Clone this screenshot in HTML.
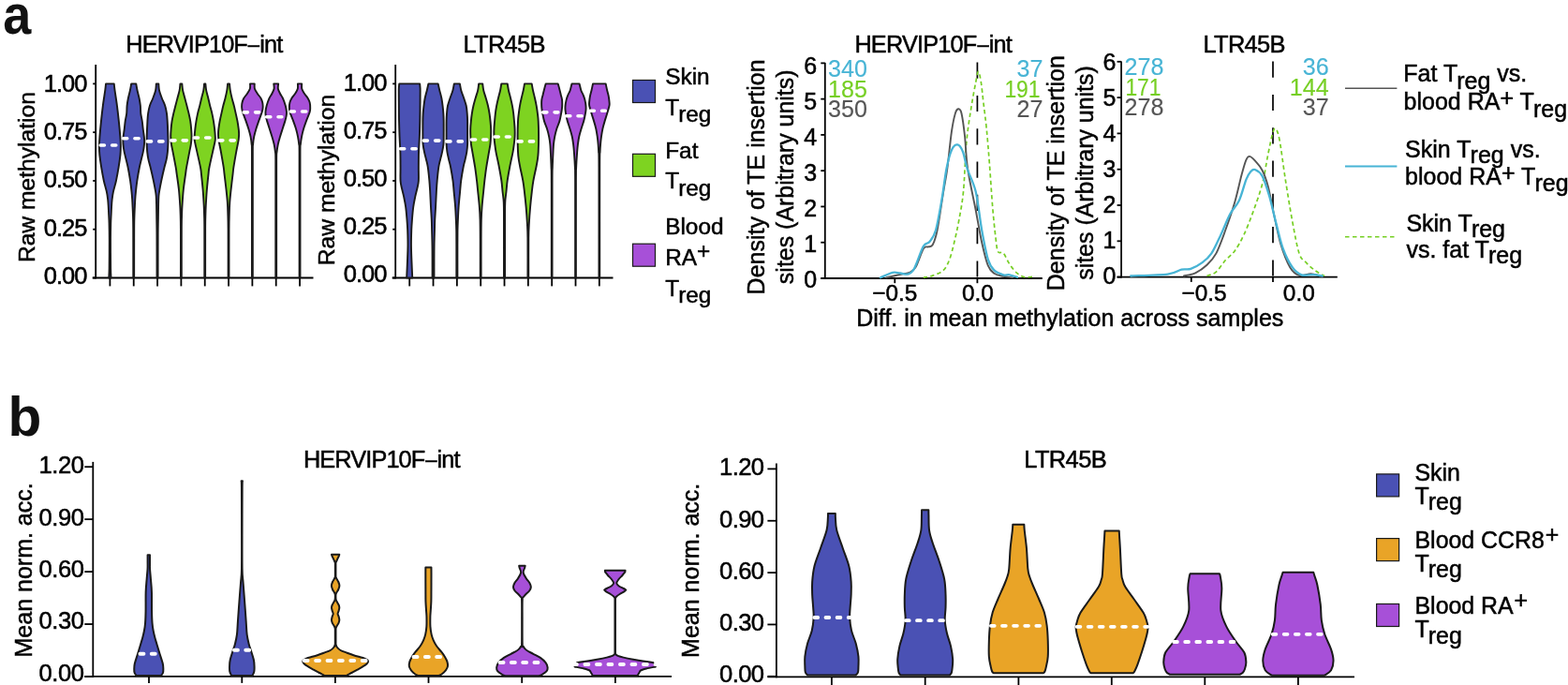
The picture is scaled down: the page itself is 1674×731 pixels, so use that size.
<!DOCTYPE html>
<html lang="en">
<head>
<meta charset="utf-8">
<title>Figure</title>
<style>
html,body{margin:0;padding:0;background:#fff;}
body{width:1674px;height:731px;overflow:hidden;}
svg{display:block;font-family:"Liberation Sans", sans-serif;}
</style>
</head>
<body>
<svg width="1674" height="731" viewBox="0 0 1674 731">
<rect x="0" y="0" width="1674" height="731" fill="#fff"/>
<text transform="translate(3.2 36.2) scale(0.9 0.995)" x="0" y="0" font-size="60" font-weight="bold" fill="#111">a</text>
<text x="8.5" y="464.8" font-size="58.6" font-weight="bold" fill="#111">b</text>
<line x1="102.20" y1="69.00" x2="102.20" y2="297.40" stroke="#000" stroke-width="1.8"/>
<line x1="98.70" y1="296.50" x2="334.50" y2="296.50" stroke="#000" stroke-width="1.8"/>
<line x1="99.20" y1="89.40" x2="102.20" y2="89.40" stroke="#000" stroke-width="1.8"/>
<text x="46.80" y="97.80" font-size="25.5" text-anchor="start" fill="#000" stroke="#000" stroke-width="0.55" font-weight="normal" textLength="46.6" lengthAdjust="spacing">1.00</text>
<line x1="99.20" y1="141.18" x2="102.20" y2="141.18" stroke="#000" stroke-width="1.8"/>
<text x="46.80" y="149.13" font-size="25.5" text-anchor="start" fill="#000" stroke="#000" stroke-width="0.55" font-weight="normal" textLength="46.6" lengthAdjust="spacing">0.75</text>
<line x1="99.20" y1="192.95" x2="102.20" y2="192.95" stroke="#000" stroke-width="1.8"/>
<text x="46.80" y="200.46" font-size="25.5" text-anchor="start" fill="#000" stroke="#000" stroke-width="0.55" font-weight="normal" textLength="46.6" lengthAdjust="spacing">0.50</text>
<line x1="99.20" y1="244.72" x2="102.20" y2="244.72" stroke="#000" stroke-width="1.8"/>
<text x="46.80" y="251.79" font-size="25.5" text-anchor="start" fill="#000" stroke="#000" stroke-width="0.55" font-weight="normal" textLength="46.6" lengthAdjust="spacing">0.25</text>
<line x1="99.20" y1="296.50" x2="102.20" y2="296.50" stroke="#000" stroke-width="1.8"/>
<text x="46.80" y="303.12" font-size="25.5" text-anchor="start" fill="#000" stroke="#000" stroke-width="0.55" font-weight="normal" textLength="46.6" lengthAdjust="spacing">0.00</text>
<line x1="117.40" y1="296.50" x2="117.40" y2="305.40" stroke="#000" stroke-width="1.8"/>
<line x1="142.73" y1="296.50" x2="142.73" y2="305.40" stroke="#000" stroke-width="1.8"/>
<line x1="168.06" y1="296.50" x2="168.06" y2="305.40" stroke="#000" stroke-width="1.8"/>
<line x1="193.39" y1="296.50" x2="193.39" y2="305.40" stroke="#000" stroke-width="1.8"/>
<line x1="218.72" y1="296.50" x2="218.72" y2="305.40" stroke="#000" stroke-width="1.8"/>
<line x1="244.05" y1="296.50" x2="244.05" y2="305.40" stroke="#000" stroke-width="1.8"/>
<line x1="269.38" y1="296.50" x2="269.38" y2="305.40" stroke="#000" stroke-width="1.8"/>
<line x1="294.71" y1="296.50" x2="294.71" y2="305.40" stroke="#000" stroke-width="1.8"/>
<line x1="320.04" y1="296.50" x2="320.04" y2="305.40" stroke="#000" stroke-width="1.8"/>
<text x="134.30" y="56.00" font-size="25.3" text-anchor="start" fill="#000" stroke="#000" stroke-width="0.5" font-weight="normal" letter-spacing="-0.85">HERVIP10F<tspan font-size="22" dy="-1.0" dx="0.9">–</tspan><tspan dy="1.0" dx="0.9">int</tspan></text>
<text x="36.70" y="189.10" font-size="24.63" text-anchor="middle" fill="#000" stroke="#000" stroke-width="0.5" font-weight="normal" transform="rotate(-90 36.70 189.10)">Raw methylation</text>
<path d="M121.75 89.40 C121.88 90.57 122.02 92.54 122.55 96.44 C123.08 100.34 124.23 107.31 124.95 112.80 C125.67 118.29 126.28 123.88 126.85 129.37 C127.42 134.86 128.02 141.35 128.35 145.73 C128.68 150.11 128.83 152.39 128.85 155.67 C128.87 158.95 128.82 161.61 128.45 165.41 C128.08 169.20 127.40 173.86 126.65 178.45 C125.90 183.04 124.90 188.60 123.95 192.95 C123.00 197.30 121.67 201.23 120.95 204.55 C120.23 207.86 119.97 210.10 119.65 212.83 C119.33 215.56 119.22 218.18 119.05 220.91 C118.88 223.64 118.78 226.26 118.65 229.19 C118.52 232.13 118.36 234.20 118.25 238.51 C118.14 242.83 118.02 247.14 118.00 255.08 C117.98 263.02 118.06 279.24 118.15 286.14 C118.24 293.05 118.48 294.77 118.55 296.50 L116.25 296.50 C116.32 294.77 116.56 293.05 116.65 286.14 C116.74 279.24 116.82 263.02 116.80 255.08 C116.78 247.14 116.66 242.83 116.55 238.51 C116.44 234.20 116.28 232.13 116.15 229.19 C116.02 226.26 115.92 223.64 115.75 220.91 C115.58 218.18 115.47 215.56 115.15 212.83 C114.83 210.10 114.57 207.86 113.85 204.55 C113.13 201.23 111.80 197.30 110.85 192.95 C109.90 188.60 108.90 183.04 108.15 178.45 C107.40 173.86 106.72 169.20 106.35 165.41 C105.98 161.61 105.93 158.95 105.95 155.67 C105.97 152.39 106.12 150.11 106.45 145.73 C106.78 141.35 107.38 134.86 107.95 129.37 C108.52 123.88 109.13 118.29 109.85 112.80 C110.57 107.31 111.72 100.34 112.25 96.44 C112.78 92.54 112.92 90.57 113.05 89.40 Z" fill="#4a51b4" stroke="#1a1a1a" stroke-width="1.90" stroke-linejoin="round"/>
<line x1="107.20" y1="155.05" x2="123.80" y2="155.05" stroke="#fff" stroke-width="3.6" stroke-dasharray="4.2 8.2" stroke-linecap="round"/>
<path d="M145.28 89.40 C145.50 90.57 146.03 93.89 146.58 96.44 C147.13 99.00 148.03 102.00 148.58 104.73 C149.13 107.45 149.60 110.08 149.88 112.80 C150.16 115.53 149.96 118.32 150.28 121.09 C150.60 123.85 151.38 126.64 151.78 129.37 C152.18 132.10 152.31 134.44 152.68 137.45 C153.05 140.45 153.76 144.66 153.98 147.39 C154.20 150.11 154.18 151.36 153.98 153.81 C153.78 156.26 153.63 157.98 152.78 162.09 C151.93 166.20 149.95 173.31 148.88 178.45 C147.81 183.60 147.03 188.60 146.38 192.95 C145.73 197.30 145.33 201.23 144.98 204.55 C144.63 207.86 144.46 210.10 144.28 212.83 C144.10 215.56 144.01 218.01 143.88 220.91 C143.75 223.81 143.59 226.26 143.48 230.23 C143.37 234.20 143.28 233.68 143.23 244.72 C143.18 255.77 143.19 287.87 143.18 296.50 L142.28 296.50 C142.27 287.87 142.28 255.77 142.23 244.72 C142.18 233.68 142.09 234.20 141.98 230.23 C141.87 226.26 141.71 223.81 141.58 220.91 C141.45 218.01 141.36 215.56 141.18 212.83 C141.00 210.10 140.83 207.86 140.48 204.55 C140.13 201.23 139.73 197.30 139.08 192.95 C138.43 188.60 137.65 183.60 136.58 178.45 C135.51 173.31 133.53 166.20 132.68 162.09 C131.83 157.98 131.68 156.26 131.48 153.81 C131.28 151.36 131.26 150.11 131.48 147.39 C131.70 144.66 132.41 140.45 132.78 137.45 C133.15 134.44 133.28 132.10 133.68 129.37 C134.08 126.64 134.86 123.85 135.18 121.09 C135.50 118.32 135.30 115.53 135.58 112.80 C135.86 110.08 136.33 107.45 136.88 104.73 C137.43 102.00 138.33 99.00 138.88 96.44 C139.43 93.89 139.96 90.57 140.18 89.40 Z" fill="#4a51b4" stroke="#1a1a1a" stroke-width="1.90" stroke-linejoin="round"/>
<line x1="131.53" y1="147.80" x2="148.43" y2="147.80" stroke="#fff" stroke-width="3.6" stroke-dasharray="4.2 8.2" stroke-linecap="round"/>
<path d="M169.31 89.40 C169.43 90.57 169.43 93.89 170.01 96.44 C170.59 99.00 171.78 102.00 172.81 104.73 C173.84 107.45 175.34 110.08 176.21 112.80 C177.08 115.53 177.59 118.32 178.01 121.09 C178.43 123.85 178.48 125.26 178.71 129.37 C178.94 133.48 179.29 141.66 179.41 145.73 C179.53 149.80 179.49 151.08 179.41 153.81 C179.33 156.53 179.19 159.37 178.91 162.09 C178.63 164.82 178.28 167.44 177.71 170.17 C177.14 172.90 176.43 174.66 175.51 178.45 C174.59 182.25 173.13 188.60 172.21 192.95 C171.29 197.30 170.48 201.79 170.01 204.55 C169.54 207.31 169.56 207.31 169.41 209.52 C169.26 211.73 169.20 213.66 169.11 217.80 C169.02 221.94 168.94 228.85 168.86 234.37 C168.79 239.89 168.70 240.58 168.66 250.94 C168.62 261.29 168.62 288.91 168.61 296.50 L167.51 296.50 C167.50 288.91 167.50 261.29 167.46 250.94 C167.42 240.58 167.33 239.89 167.26 234.37 C167.19 228.85 167.10 221.94 167.01 217.80 C166.92 213.66 166.86 211.73 166.71 209.52 C166.56 207.31 166.58 207.31 166.11 204.55 C165.64 201.79 164.83 197.30 163.91 192.95 C162.99 188.60 161.53 182.25 160.61 178.45 C159.69 174.66 158.98 172.90 158.41 170.17 C157.84 167.44 157.49 164.82 157.21 162.09 C156.93 159.37 156.79 156.53 156.71 153.81 C156.63 151.08 156.59 149.80 156.71 145.73 C156.83 141.66 157.18 133.48 157.41 129.37 C157.64 125.26 157.69 123.85 158.11 121.09 C158.53 118.32 159.04 115.53 159.91 112.80 C160.78 110.08 162.28 107.45 163.31 104.73 C164.34 102.00 165.53 99.00 166.11 96.44 C166.69 93.89 166.69 90.57 166.81 89.40 Z" fill="#4a51b4" stroke="#1a1a1a" stroke-width="1.90" stroke-linejoin="round"/>
<line x1="157.36" y1="150.91" x2="174.26" y2="150.91" stroke="#fff" stroke-width="3.6" stroke-dasharray="4.2 8.2" stroke-linecap="round"/>
<path d="M194.34 89.40 C194.47 90.57 194.64 93.89 195.14 96.44 C195.64 99.00 196.62 102.00 197.34 104.73 C198.06 107.45 198.74 110.08 199.44 112.80 C200.14 115.53 200.91 118.32 201.54 121.09 C202.17 123.85 202.81 126.64 203.24 129.37 C203.67 132.10 203.92 134.72 204.14 137.45 C204.36 140.17 204.59 143.00 204.54 145.73 C204.49 148.46 204.22 151.08 203.84 153.81 C203.46 156.53 203.02 157.98 202.24 162.09 C201.46 166.20 199.82 174.59 199.14 178.45 C198.46 182.32 198.69 181.32 198.14 185.29 C197.59 189.26 196.44 196.61 195.84 202.27 C195.24 207.93 194.82 214.94 194.54 219.25 C194.26 223.57 194.26 223.91 194.14 228.16 C194.02 232.40 193.89 233.33 193.84 244.72 C193.79 256.12 193.84 287.87 193.84 296.50 L192.94 296.50 C192.94 287.87 192.99 256.12 192.94 244.72 C192.89 233.33 192.76 232.40 192.64 228.16 C192.52 223.91 192.52 223.57 192.24 219.25 C191.96 214.94 191.54 207.93 190.94 202.27 C190.34 196.61 189.19 189.26 188.64 185.29 C188.09 181.32 188.32 182.32 187.64 178.45 C186.96 174.59 185.32 166.20 184.54 162.09 C183.76 157.98 183.32 156.53 182.94 153.81 C182.56 151.08 182.29 148.46 182.24 145.73 C182.19 143.00 182.42 140.17 182.64 137.45 C182.86 134.72 183.11 132.10 183.54 129.37 C183.97 126.64 184.61 123.85 185.24 121.09 C185.87 118.32 186.64 115.53 187.34 112.80 C188.04 110.08 188.72 107.45 189.44 104.73 C190.16 102.00 191.14 99.00 191.64 96.44 C192.14 93.89 192.31 90.57 192.44 89.40 Z" fill="#7ed321" stroke="#1a1a1a" stroke-width="1.90" stroke-linejoin="round"/>
<line x1="182.79" y1="149.87" x2="199.79" y2="149.87" stroke="#fff" stroke-width="3.6" stroke-dasharray="4.2 8.2" stroke-linecap="round"/>
<path d="M219.37 89.40 C219.50 90.57 219.69 93.89 220.17 96.44 C220.65 99.00 221.60 102.00 222.27 104.73 C222.94 107.45 223.49 110.08 224.17 112.80 C224.85 115.53 225.74 118.32 226.37 121.09 C227.00 123.85 227.52 126.64 227.97 129.37 C228.42 132.10 228.77 134.72 229.07 137.45 C229.37 140.17 229.69 143.52 229.77 145.73 C229.85 147.94 230.02 147.97 229.57 150.70 C229.12 153.43 228.09 157.47 227.07 162.09 C226.05 166.72 224.22 174.59 223.47 178.45 C222.72 182.32 223.00 181.32 222.57 185.29 C222.14 189.26 221.34 196.61 220.87 202.27 C220.40 207.93 220.02 214.59 219.77 219.25 C219.52 223.91 219.47 225.98 219.37 230.23 C219.27 234.47 219.20 233.68 219.17 244.72 C219.14 255.77 219.17 287.87 219.17 296.50 L218.27 296.50 C218.27 287.87 218.30 255.77 218.27 244.72 C218.24 233.68 218.17 234.47 218.07 230.23 C217.97 225.98 217.92 223.91 217.67 219.25 C217.42 214.59 217.04 207.93 216.57 202.27 C216.10 196.61 215.30 189.26 214.87 185.29 C214.44 181.32 214.72 182.32 213.97 178.45 C213.22 174.59 211.39 166.72 210.37 162.09 C209.35 157.47 208.32 153.43 207.87 150.70 C207.42 147.97 207.59 147.94 207.67 145.73 C207.75 143.52 208.07 140.17 208.37 137.45 C208.67 134.72 209.02 132.10 209.47 129.37 C209.92 126.64 210.44 123.85 211.07 121.09 C211.70 118.32 212.59 115.53 213.27 112.80 C213.95 110.08 214.50 107.45 215.17 104.73 C215.84 102.00 216.79 99.00 217.27 96.44 C217.75 93.89 217.94 90.57 218.07 89.40 Z" fill="#7ed321" stroke="#1a1a1a" stroke-width="1.90" stroke-linejoin="round"/>
<line x1="207.32" y1="146.97" x2="224.52" y2="146.97" stroke="#fff" stroke-width="3.6" stroke-dasharray="4.2 8.2" stroke-linecap="round"/>
<path d="M245.00 89.40 C245.13 90.57 245.37 93.89 245.80 96.44 C246.23 99.00 246.93 102.00 247.60 104.73 C248.27 107.45 249.12 110.08 249.80 112.80 C250.48 115.53 251.08 118.32 251.70 121.09 C252.32 123.85 253.00 126.64 253.50 129.37 C254.00 132.10 254.43 135.27 254.70 137.45 C254.97 139.62 255.10 140.48 255.10 142.42 C255.10 144.35 255.18 145.77 254.70 149.04 C254.22 152.32 253.08 157.19 252.20 162.09 C251.32 166.99 250.00 174.59 249.40 178.45 C248.80 182.32 249.07 181.32 248.60 185.29 C248.13 189.26 247.15 197.20 246.60 202.27 C246.05 207.34 245.60 211.42 245.30 215.73 C245.00 220.05 244.93 223.32 244.80 228.16 C244.67 232.99 244.55 233.33 244.50 244.72 C244.45 256.12 244.50 287.87 244.50 296.50 L243.60 296.50 C243.60 287.87 243.65 256.12 243.60 244.72 C243.55 233.33 243.43 232.99 243.30 228.16 C243.17 223.32 243.10 220.05 242.80 215.73 C242.50 211.42 242.05 207.34 241.50 202.27 C240.95 197.20 239.97 189.26 239.50 185.29 C239.03 181.32 239.30 182.32 238.70 178.45 C238.10 174.59 236.78 166.99 235.90 162.09 C235.02 157.19 233.88 152.32 233.40 149.04 C232.92 145.77 233.00 144.35 233.00 142.42 C233.00 140.48 233.13 139.62 233.40 137.45 C233.67 135.27 234.10 132.10 234.60 129.37 C235.10 126.64 235.78 123.85 236.40 121.09 C237.02 118.32 237.62 115.53 238.30 112.80 C238.98 110.08 239.83 107.45 240.50 104.73 C241.17 102.00 241.87 99.00 242.30 96.44 C242.73 93.89 242.97 90.57 243.10 89.40 Z" fill="#7ed321" stroke="#1a1a1a" stroke-width="1.90" stroke-linejoin="round"/>
<line x1="233.65" y1="149.87" x2="250.55" y2="149.87" stroke="#fff" stroke-width="3.6" stroke-dasharray="4.2 8.2" stroke-linecap="round"/>
<path d="M271.73 89.40 C271.76 90.30 271.43 93.06 271.93 94.78 C272.43 96.51 273.65 98.10 274.73 99.76 C275.81 101.41 277.51 103.10 278.43 104.73 C279.35 106.35 279.86 107.87 280.23 109.49 C280.60 111.11 280.71 112.80 280.63 114.46 C280.55 116.12 280.48 116.94 279.73 119.43 C278.98 121.91 277.18 126.37 276.13 129.37 C275.08 132.37 274.25 134.72 273.43 137.45 C272.61 140.17 271.78 143.00 271.23 145.73 C270.68 148.46 270.36 151.08 270.13 153.81 C269.90 156.53 269.88 152.12 269.83 162.09 C269.78 172.07 269.83 191.26 269.83 213.66 C269.83 236.06 269.83 282.69 269.83 296.50 L268.93 296.50 C268.93 282.69 268.93 236.06 268.93 213.66 C268.93 191.26 268.98 172.07 268.93 162.09 C268.88 152.12 268.86 156.53 268.63 153.81 C268.40 151.08 268.08 148.46 267.53 145.73 C266.98 143.00 266.15 140.17 265.33 137.45 C264.51 134.72 263.68 132.37 262.63 129.37 C261.58 126.37 259.78 121.91 259.03 119.43 C258.28 116.94 258.21 116.12 258.13 114.46 C258.05 112.80 258.16 111.11 258.53 109.49 C258.90 107.87 259.41 106.35 260.33 104.73 C261.25 103.10 262.95 101.41 264.03 99.76 C265.11 98.10 266.33 96.51 266.83 94.78 C267.33 93.06 267.00 90.30 267.03 89.40 Z" fill="#a750d8" stroke="#1a1a1a" stroke-width="1.90" stroke-linejoin="round"/>
<line x1="260.18" y1="119.84" x2="276.58" y2="119.84" stroke="#fff" stroke-width="3.6" stroke-dasharray="4.2 8.2" stroke-linecap="round"/>
<path d="M297.16 89.40 C297.11 90.30 296.56 93.06 296.86 94.78 C297.16 96.51 298.13 98.10 298.96 99.76 C299.79 101.41 300.89 102.55 301.86 104.73 C302.83 106.90 304.08 110.35 304.76 112.80 C305.44 115.25 305.83 117.50 305.96 119.43 C306.09 121.36 305.84 122.74 305.56 124.40 C305.28 126.06 304.91 127.20 304.26 129.37 C303.61 131.54 302.53 134.72 301.66 137.45 C300.79 140.17 299.86 143.00 299.06 145.73 C298.26 148.46 297.44 151.08 296.86 153.81 C296.28 156.53 295.84 159.37 295.56 162.09 C295.28 164.82 295.23 161.57 295.16 170.17 C295.09 178.76 295.16 192.60 295.16 213.66 C295.16 234.72 295.16 282.69 295.16 296.50 L294.26 296.50 C294.26 282.69 294.26 234.72 294.26 213.66 C294.26 192.60 294.33 178.76 294.26 170.17 C294.19 161.57 294.14 164.82 293.86 162.09 C293.58 159.37 293.14 156.53 292.56 153.81 C291.98 151.08 291.16 148.46 290.36 145.73 C289.56 143.00 288.63 140.17 287.76 137.45 C286.89 134.72 285.81 131.54 285.16 129.37 C284.51 127.20 284.14 126.06 283.86 124.40 C283.58 122.74 283.33 121.36 283.46 119.43 C283.59 117.50 283.98 115.25 284.66 112.80 C285.34 110.35 286.59 106.90 287.56 104.73 C288.53 102.55 289.63 101.41 290.46 99.76 C291.29 98.10 292.26 96.51 292.56 94.78 C292.86 93.06 292.31 90.30 292.26 89.40 Z" fill="#a750d8" stroke="#1a1a1a" stroke-width="1.90" stroke-linejoin="round"/>
<line x1="284.61" y1="124.81" x2="300.81" y2="124.81" stroke="#fff" stroke-width="3.6" stroke-dasharray="4.2 8.2" stroke-linecap="round"/>
<path d="M322.19 89.40 C322.21 90.30 321.84 93.06 322.29 94.78 C322.74 96.51 323.84 98.10 324.89 99.76 C325.94 101.41 327.62 103.10 328.59 104.73 C329.56 106.35 330.26 107.87 330.69 109.49 C331.12 111.11 331.19 112.80 331.19 114.46 C331.19 116.12 331.41 116.94 330.69 119.43 C329.97 121.91 327.99 126.37 326.89 129.37 C325.79 132.37 324.89 134.72 324.09 137.45 C323.29 140.17 322.62 143.00 322.09 145.73 C321.56 148.46 321.16 151.08 320.89 153.81 C320.62 156.53 320.56 152.12 320.49 162.09 C320.42 172.07 320.49 191.26 320.49 213.66 C320.49 236.06 320.49 282.69 320.49 296.50 L319.59 296.50 C319.59 282.69 319.59 236.06 319.59 213.66 C319.59 191.26 319.66 172.07 319.59 162.09 C319.52 152.12 319.46 156.53 319.19 153.81 C318.92 151.08 318.52 148.46 317.99 145.73 C317.46 143.00 316.79 140.17 315.99 137.45 C315.19 134.72 314.29 132.37 313.19 129.37 C312.09 126.37 310.11 121.91 309.39 119.43 C308.67 116.94 308.89 116.12 308.89 114.46 C308.89 112.80 308.96 111.11 309.39 109.49 C309.82 107.87 310.52 106.35 311.49 104.73 C312.46 103.10 314.14 101.41 315.19 99.76 C316.24 98.10 317.34 96.51 317.79 94.78 C318.24 93.06 317.87 90.30 317.89 89.40 Z" fill="#a750d8" stroke="#1a1a1a" stroke-width="1.90" stroke-linejoin="round"/>
<line x1="310.14" y1="119.02" x2="326.74" y2="119.02" stroke="#fff" stroke-width="3.6" stroke-dasharray="4.2 8.2" stroke-linecap="round"/>
<line x1="422.20" y1="69.00" x2="422.20" y2="297.40" stroke="#000" stroke-width="1.8"/>
<line x1="418.70" y1="296.50" x2="654.50" y2="296.50" stroke="#000" stroke-width="1.8"/>
<line x1="419.20" y1="89.40" x2="422.20" y2="89.40" stroke="#000" stroke-width="1.8"/>
<text x="366.80" y="97.00" font-size="25.5" text-anchor="start" fill="#000" stroke="#000" stroke-width="0.55" font-weight="normal" textLength="46.6" lengthAdjust="spacing">1.00</text>
<line x1="419.20" y1="141.18" x2="422.20" y2="141.18" stroke="#000" stroke-width="1.8"/>
<text x="366.80" y="148.10" font-size="25.5" text-anchor="start" fill="#000" stroke="#000" stroke-width="0.55" font-weight="normal" textLength="46.6" lengthAdjust="spacing">0.75</text>
<line x1="419.20" y1="192.95" x2="422.20" y2="192.95" stroke="#000" stroke-width="1.8"/>
<text x="366.80" y="199.20" font-size="25.5" text-anchor="start" fill="#000" stroke="#000" stroke-width="0.55" font-weight="normal" textLength="46.6" lengthAdjust="spacing">0.50</text>
<line x1="419.20" y1="244.72" x2="422.20" y2="244.72" stroke="#000" stroke-width="1.8"/>
<text x="366.80" y="250.30" font-size="25.5" text-anchor="start" fill="#000" stroke="#000" stroke-width="0.55" font-weight="normal" textLength="46.6" lengthAdjust="spacing">0.25</text>
<line x1="419.20" y1="296.50" x2="422.20" y2="296.50" stroke="#000" stroke-width="1.8"/>
<text x="366.80" y="301.40" font-size="25.5" text-anchor="start" fill="#000" stroke="#000" stroke-width="0.55" font-weight="normal" textLength="46.6" lengthAdjust="spacing">0.00</text>
<line x1="437.20" y1="296.50" x2="437.20" y2="305.40" stroke="#000" stroke-width="1.8"/>
<line x1="462.53" y1="296.50" x2="462.53" y2="305.40" stroke="#000" stroke-width="1.8"/>
<line x1="487.86" y1="296.50" x2="487.86" y2="305.40" stroke="#000" stroke-width="1.8"/>
<line x1="513.19" y1="296.50" x2="513.19" y2="305.40" stroke="#000" stroke-width="1.8"/>
<line x1="538.52" y1="296.50" x2="538.52" y2="305.40" stroke="#000" stroke-width="1.8"/>
<line x1="563.85" y1="296.50" x2="563.85" y2="305.40" stroke="#000" stroke-width="1.8"/>
<line x1="589.18" y1="296.50" x2="589.18" y2="305.40" stroke="#000" stroke-width="1.8"/>
<line x1="614.51" y1="296.50" x2="614.51" y2="305.40" stroke="#000" stroke-width="1.8"/>
<line x1="639.84" y1="296.50" x2="639.84" y2="305.40" stroke="#000" stroke-width="1.8"/>
<text x="494.40" y="56.00" font-size="25.5" text-anchor="start" fill="#000" stroke="#000" stroke-width="0.5" font-weight="normal" textLength="88.2" lengthAdjust="spacing">LTR45B</text>
<text x="357.00" y="192.10" font-size="24.7" text-anchor="middle" fill="#000" stroke="#000" stroke-width="0.5" font-weight="normal" transform="rotate(-90 357.00 192.10)">Raw methylation</text>
<path d="M448.15 89.40 C448.22 90.09 448.47 92.37 448.55 93.54 C448.63 94.72 448.65 93.23 448.65 96.44 C448.65 99.65 448.60 107.31 448.55 112.80 C448.50 118.29 448.47 123.88 448.35 129.37 C448.23 134.86 448.07 140.28 447.85 145.73 C447.63 151.18 447.22 156.64 447.05 162.09 C446.88 167.55 446.88 173.31 446.85 178.45 C446.82 183.60 447.10 189.15 446.85 192.95 C446.60 196.75 445.93 198.47 445.35 201.23 C444.77 204.00 444.03 206.24 443.35 209.52 C442.67 212.80 441.82 216.77 441.25 220.91 C440.68 225.05 440.28 230.26 439.95 234.37 C439.62 238.48 439.42 240.93 439.25 245.55 C439.08 250.18 438.92 256.63 438.95 262.12 C438.98 267.61 439.23 272.75 439.45 278.48 C439.67 284.21 440.12 293.50 440.25 296.50 L434.15 296.50 C434.28 293.50 434.73 284.21 434.95 278.48 C435.17 272.75 435.42 267.61 435.45 262.12 C435.48 256.63 435.32 250.18 435.15 245.55 C434.98 240.93 434.78 238.48 434.45 234.37 C434.12 230.26 433.72 225.05 433.15 220.91 C432.58 216.77 431.73 212.80 431.05 209.52 C430.37 206.24 429.63 204.00 429.05 201.23 C428.47 198.47 427.80 196.75 427.55 192.95 C427.30 189.15 427.58 183.60 427.55 178.45 C427.52 173.31 427.52 167.55 427.35 162.09 C427.18 156.64 426.77 151.18 426.55 145.73 C426.33 140.28 426.17 134.86 426.05 129.37 C425.93 123.88 425.90 118.29 425.85 112.80 C425.80 107.31 425.75 99.65 425.75 96.44 C425.75 93.23 425.77 94.72 425.85 93.54 C425.93 92.37 426.18 90.09 426.25 89.40 Z" fill="#4a51b4" stroke="#1a1a1a" stroke-width="1.90" stroke-linejoin="round"/>
<line x1="427.50" y1="158.78" x2="444.40" y2="158.78" stroke="#fff" stroke-width="3.6" stroke-dasharray="4.2 8.2" stroke-linecap="round"/>
<path d="M467.68 89.40 C467.95 90.57 468.66 93.89 469.28 96.44 C469.90 99.00 470.83 102.00 471.38 104.73 C471.93 107.45 472.25 110.08 472.58 112.80 C472.91 115.53 473.20 118.32 473.38 121.09 C473.56 123.85 473.63 125.26 473.68 129.37 C473.73 133.48 473.71 141.66 473.68 145.73 C473.65 149.80 473.75 151.08 473.48 153.81 C473.21 156.53 472.65 159.37 472.08 162.09 C471.51 164.82 470.71 167.44 470.08 170.17 C469.45 172.90 468.85 174.66 468.28 178.45 C467.71 182.25 467.08 188.60 466.68 192.95 C466.28 197.30 466.15 199.89 465.88 204.55 C465.61 209.21 465.35 215.94 465.08 220.91 C464.81 225.88 464.46 230.26 464.28 234.37 C464.10 238.48 464.10 240.93 463.98 245.55 C463.86 250.18 463.66 256.63 463.58 262.12 C463.50 267.61 463.50 272.75 463.48 278.48 C463.46 284.21 463.48 293.50 463.48 296.50 L461.58 296.50 C461.58 293.50 461.60 284.21 461.58 278.48 C461.56 272.75 461.56 267.61 461.48 262.12 C461.40 256.63 461.20 250.18 461.08 245.55 C460.96 240.93 460.96 238.48 460.78 234.37 C460.60 230.26 460.25 225.88 459.98 220.91 C459.71 215.94 459.45 209.21 459.18 204.55 C458.91 199.89 458.78 197.30 458.38 192.95 C457.98 188.60 457.35 182.25 456.78 178.45 C456.21 174.66 455.61 172.90 454.98 170.17 C454.35 167.44 453.55 164.82 452.98 162.09 C452.41 159.37 451.85 156.53 451.58 153.81 C451.31 151.08 451.41 149.80 451.38 145.73 C451.35 141.66 451.33 133.48 451.38 129.37 C451.43 125.26 451.50 123.85 451.68 121.09 C451.86 118.32 452.15 115.53 452.48 112.80 C452.81 110.08 453.13 107.45 453.68 104.73 C454.23 102.00 455.16 99.00 455.78 96.44 C456.40 93.89 457.11 90.57 457.38 89.40 Z" fill="#4a51b4" stroke="#1a1a1a" stroke-width="1.90" stroke-linejoin="round"/>
<line x1="452.23" y1="150.08" x2="468.83" y2="150.08" stroke="#fff" stroke-width="3.6" stroke-dasharray="4.2 8.2" stroke-linecap="round"/>
<path d="M490.91 89.40 C491.14 90.57 491.59 93.89 492.31 96.44 C493.03 99.00 494.31 102.00 495.21 104.73 C496.11 107.45 497.13 110.08 497.71 112.80 C498.29 115.53 498.48 118.32 498.71 121.09 C498.94 123.85 499.04 125.26 499.11 129.37 C499.18 133.48 499.11 141.66 499.11 145.73 C499.11 149.80 499.24 151.08 499.11 153.81 C498.98 156.53 498.73 159.37 498.31 162.09 C497.89 164.82 497.23 167.44 496.61 170.17 C495.99 172.90 495.34 174.66 494.61 178.45 C493.88 182.25 492.79 188.60 492.21 192.95 C491.63 197.30 491.54 199.89 491.11 204.55 C490.68 209.21 489.98 215.94 489.61 220.91 C489.24 225.88 489.09 230.26 488.91 234.37 C488.73 238.48 488.59 240.93 488.51 245.55 C488.43 250.18 488.43 253.63 488.41 262.12 C488.39 270.61 488.41 290.77 488.41 296.50 L487.31 296.50 C487.31 290.77 487.33 270.61 487.31 262.12 C487.29 253.63 487.29 250.18 487.21 245.55 C487.13 240.93 486.99 238.48 486.81 234.37 C486.63 230.26 486.48 225.88 486.11 220.91 C485.74 215.94 485.04 209.21 484.61 204.55 C484.18 199.89 484.09 197.30 483.51 192.95 C482.93 188.60 481.84 182.25 481.11 178.45 C480.38 174.66 479.73 172.90 479.11 170.17 C478.49 167.44 477.83 164.82 477.41 162.09 C476.99 159.37 476.74 156.53 476.61 153.81 C476.48 151.08 476.61 149.80 476.61 145.73 C476.61 141.66 476.54 133.48 476.61 129.37 C476.68 125.26 476.78 123.85 477.01 121.09 C477.24 118.32 477.43 115.53 478.01 112.80 C478.59 110.08 479.61 107.45 480.51 104.73 C481.41 102.00 482.69 99.00 483.41 96.44 C484.13 93.89 484.58 90.57 484.81 89.40 Z" fill="#4a51b4" stroke="#1a1a1a" stroke-width="1.90" stroke-linejoin="round"/>
<line x1="476.76" y1="150.91" x2="493.66" y2="150.91" stroke="#fff" stroke-width="3.6" stroke-dasharray="4.2 8.2" stroke-linecap="round"/>
<path d="M515.24 89.40 C515.41 90.57 515.66 93.89 516.24 96.44 C516.82 99.00 517.96 102.00 518.74 104.73 C519.52 107.45 520.31 110.08 520.94 112.80 C521.57 115.53 522.11 118.32 522.54 121.09 C522.97 123.85 523.27 126.64 523.54 129.37 C523.81 132.10 524.06 134.72 524.14 137.45 C524.22 140.17 524.16 143.00 524.04 145.73 C523.92 148.46 523.77 151.08 523.44 153.81 C523.11 156.53 522.74 157.98 522.04 162.09 C521.34 166.20 520.02 173.31 519.24 178.45 C518.46 183.60 517.86 188.60 517.34 192.95 C516.82 197.30 516.61 199.89 516.14 204.55 C515.67 209.21 514.92 215.94 514.54 220.91 C514.16 225.88 513.99 228.67 513.84 234.37 C513.69 240.07 513.67 244.72 513.64 255.08 C513.61 265.44 513.64 289.60 513.64 296.50 L512.74 296.50 C512.74 289.60 512.77 265.44 512.74 255.08 C512.71 244.72 512.69 240.07 512.54 234.37 C512.39 228.67 512.22 225.88 511.84 220.91 C511.46 215.94 510.71 209.21 510.24 204.55 C509.77 199.89 509.56 197.30 509.04 192.95 C508.52 188.60 507.92 183.60 507.14 178.45 C506.36 173.31 505.04 166.20 504.34 162.09 C503.64 157.98 503.27 156.53 502.94 153.81 C502.61 151.08 502.46 148.46 502.34 145.73 C502.22 143.00 502.16 140.17 502.24 137.45 C502.32 134.72 502.57 132.10 502.84 129.37 C503.11 126.64 503.41 123.85 503.84 121.09 C504.27 118.32 504.81 115.53 505.44 112.80 C506.07 110.08 506.86 107.45 507.64 104.73 C508.42 102.00 509.56 99.00 510.14 96.44 C510.72 93.89 510.97 90.57 511.14 89.40 Z" fill="#7ed321" stroke="#1a1a1a" stroke-width="1.90" stroke-linejoin="round"/>
<line x1="503.39" y1="149.04" x2="519.79" y2="149.04" stroke="#fff" stroke-width="3.6" stroke-dasharray="4.2 8.2" stroke-linecap="round"/>
<path d="M541.77 89.40 C541.97 90.57 542.42 93.89 542.97 96.44 C543.52 99.00 544.42 102.00 545.07 104.73 C545.72 107.45 546.35 110.08 546.87 112.80 C547.39 115.53 547.82 118.32 548.17 121.09 C548.52 123.85 548.74 126.64 548.97 129.37 C549.20 132.10 549.47 134.72 549.57 137.45 C549.67 140.17 549.70 143.00 549.57 145.73 C549.44 148.46 549.10 151.08 548.77 153.81 C548.44 156.53 548.34 157.98 547.57 162.09 C546.80 166.20 545.15 173.31 544.17 178.45 C543.19 183.60 542.29 188.60 541.67 192.95 C541.05 197.30 540.87 200.68 540.47 204.55 C540.07 208.41 539.50 211.17 539.27 216.15 C539.04 221.12 539.10 220.98 539.07 234.37 C539.04 247.76 539.07 286.14 539.07 296.50 L537.97 296.50 C537.97 286.14 538.00 247.76 537.97 234.37 C537.94 220.98 538.00 221.12 537.77 216.15 C537.54 211.17 536.97 208.41 536.57 204.55 C536.17 200.68 535.99 197.30 535.37 192.95 C534.75 188.60 533.85 183.60 532.87 178.45 C531.89 173.31 530.24 166.20 529.47 162.09 C528.70 157.98 528.60 156.53 528.27 153.81 C527.94 151.08 527.60 148.46 527.47 145.73 C527.34 143.00 527.37 140.17 527.47 137.45 C527.57 134.72 527.84 132.10 528.07 129.37 C528.30 126.64 528.52 123.85 528.87 121.09 C529.22 118.32 529.65 115.53 530.17 112.80 C530.69 110.08 531.32 107.45 531.97 104.73 C532.62 102.00 533.52 99.00 534.07 96.44 C534.62 93.89 535.07 90.57 535.27 89.40 Z" fill="#7ed321" stroke="#1a1a1a" stroke-width="1.90" stroke-linejoin="round"/>
<line x1="528.02" y1="145.94" x2="544.12" y2="145.94" stroke="#fff" stroke-width="3.6" stroke-dasharray="4.2 8.2" stroke-linecap="round"/>
<path d="M567.70 89.40 C567.92 90.57 568.45 93.89 569.00 96.44 C569.55 99.00 570.38 102.00 571.00 104.73 C571.62 107.45 572.22 110.08 572.70 112.80 C573.18 115.53 573.57 118.32 573.90 121.09 C574.23 123.85 574.50 125.26 574.70 129.37 C574.90 133.48 575.10 140.28 575.10 145.73 C575.10 151.18 574.90 158.02 574.70 162.09 C574.50 166.17 574.28 167.44 573.90 170.17 C573.52 172.90 573.15 174.66 572.40 178.45 C571.65 182.25 570.17 188.60 569.40 192.95 C568.63 197.30 568.35 199.89 567.80 204.55 C567.25 209.21 566.58 215.42 566.10 220.91 C565.62 226.40 565.20 231.99 564.90 237.48 C564.60 242.96 564.40 244.00 564.30 253.84 C564.20 263.67 564.30 289.39 564.30 296.50 L563.40 296.50 C563.40 289.39 563.50 263.67 563.40 253.84 C563.30 244.00 563.10 242.96 562.80 237.48 C562.50 231.99 562.08 226.40 561.60 220.91 C561.12 215.42 560.45 209.21 559.90 204.55 C559.35 199.89 559.07 197.30 558.30 192.95 C557.53 188.60 556.05 182.25 555.30 178.45 C554.55 174.66 554.18 172.90 553.80 170.17 C553.42 167.44 553.20 166.17 553.00 162.09 C552.80 158.02 552.60 151.18 552.60 145.73 C552.60 140.28 552.80 133.48 553.00 129.37 C553.20 125.26 553.47 123.85 553.80 121.09 C554.13 118.32 554.52 115.53 555.00 112.80 C555.48 110.08 556.08 107.45 556.70 104.73 C557.32 102.00 558.15 99.00 558.70 96.44 C559.25 93.89 559.78 90.57 560.00 89.40 Z" fill="#7ed321" stroke="#1a1a1a" stroke-width="1.90" stroke-linejoin="round"/>
<line x1="552.95" y1="150.91" x2="569.55" y2="150.91" stroke="#fff" stroke-width="3.6" stroke-dasharray="4.2 8.2" stroke-linecap="round"/>
<path d="M595.73 89.40 C596.05 90.57 597.11 94.44 597.63 96.44 C598.15 98.44 598.43 99.76 598.83 101.41 C599.23 103.07 599.80 104.76 600.03 106.38 C600.26 108.00 600.25 109.52 600.23 111.15 C600.21 112.77 600.11 114.46 599.93 116.12 C599.75 117.77 599.56 118.88 599.13 121.09 C598.70 123.30 598.13 126.64 597.33 129.37 C596.53 132.10 595.18 134.72 594.33 137.45 C593.48 140.17 592.78 143.00 592.23 145.73 C591.68 148.46 591.31 151.08 591.03 153.81 C590.75 156.53 590.73 157.98 590.53 162.09 C590.33 166.20 589.99 172.96 589.83 178.45 C589.67 183.94 589.62 175.35 589.58 195.02 C589.54 214.70 589.58 279.59 589.58 296.50 L588.78 296.50 C588.78 279.59 588.82 214.70 588.78 195.02 C588.74 175.35 588.69 183.94 588.53 178.45 C588.37 172.96 588.03 166.20 587.83 162.09 C587.63 157.98 587.61 156.53 587.33 153.81 C587.05 151.08 586.68 148.46 586.13 145.73 C585.58 143.00 584.88 140.17 584.03 137.45 C583.18 134.72 581.83 132.10 581.03 129.37 C580.23 126.64 579.66 123.30 579.23 121.09 C578.80 118.88 578.61 117.77 578.43 116.12 C578.25 114.46 578.15 112.77 578.13 111.15 C578.11 109.52 578.10 108.00 578.33 106.38 C578.56 104.76 579.13 103.07 579.53 101.41 C579.93 99.76 580.21 98.44 580.73 96.44 C581.25 94.44 582.31 90.57 582.63 89.40 Z" fill="#a750d8" stroke="#1a1a1a" stroke-width="1.90" stroke-linejoin="round"/>
<line x1="579.68" y1="119.84" x2="595.78" y2="119.84" stroke="#fff" stroke-width="3.6" stroke-dasharray="4.2 8.2" stroke-linecap="round"/>
<path d="M618.56 89.40 C618.86 90.57 619.68 94.44 620.36 96.44 C621.04 98.44 621.99 99.76 622.66 101.41 C623.33 103.07 623.89 104.48 624.36 106.38 C624.83 108.28 625.28 110.90 625.46 112.80 C625.64 114.70 625.64 115.84 625.46 117.77 C625.28 119.71 624.74 122.47 624.36 124.40 C623.98 126.33 623.79 127.20 623.16 129.37 C622.53 131.54 621.38 134.72 620.56 137.45 C619.74 140.17 618.86 143.00 618.26 145.73 C617.66 148.46 617.31 151.08 616.96 153.81 C616.61 156.53 616.46 157.98 616.16 162.09 C615.86 166.20 615.37 172.96 615.16 178.45 C614.95 183.94 614.95 175.35 614.91 195.02 C614.87 214.70 614.91 279.59 614.91 296.50 L614.11 296.50 C614.11 279.59 614.15 214.70 614.11 195.02 C614.07 175.35 614.07 183.94 613.86 178.45 C613.65 172.96 613.16 166.20 612.86 162.09 C612.56 157.98 612.41 156.53 612.06 153.81 C611.71 151.08 611.36 148.46 610.76 145.73 C610.16 143.00 609.28 140.17 608.46 137.45 C607.64 134.72 606.49 131.54 605.86 129.37 C605.23 127.20 605.04 126.33 604.66 124.40 C604.28 122.47 603.74 119.71 603.56 117.77 C603.38 115.84 603.38 114.70 603.56 112.80 C603.74 110.90 604.19 108.28 604.66 106.38 C605.13 104.48 605.69 103.07 606.36 101.41 C607.03 99.76 607.98 98.44 608.66 96.44 C609.34 94.44 610.16 90.57 610.46 89.40 Z" fill="#a750d8" stroke="#1a1a1a" stroke-width="1.90" stroke-linejoin="round"/>
<line x1="604.61" y1="123.78" x2="621.11" y2="123.78" stroke="#fff" stroke-width="3.6" stroke-dasharray="4.2 8.2" stroke-linecap="round"/>
<path d="M646.69 89.40 C646.94 90.57 647.72 94.44 648.19 96.44 C648.66 98.44 649.14 99.76 649.49 101.41 C649.84 103.07 650.09 104.76 650.29 106.38 C650.49 108.00 650.72 109.80 650.69 111.15 C650.66 112.49 650.51 112.80 650.09 114.46 C649.67 116.12 648.94 118.60 648.19 121.09 C647.44 123.57 646.39 126.64 645.59 129.37 C644.79 132.10 643.99 134.72 643.39 137.45 C642.79 140.17 642.37 143.00 641.99 145.73 C641.61 148.46 641.32 151.08 641.09 153.81 C640.86 156.53 640.73 157.98 640.59 162.09 C640.45 166.20 640.30 156.05 640.24 178.45 C640.18 200.85 640.24 276.83 640.24 296.50 L639.44 296.50 C639.44 276.83 639.50 200.85 639.44 178.45 C639.38 156.05 639.23 166.20 639.09 162.09 C638.95 157.98 638.82 156.53 638.59 153.81 C638.36 151.08 638.07 148.46 637.69 145.73 C637.31 143.00 636.89 140.17 636.29 137.45 C635.69 134.72 634.89 132.10 634.09 129.37 C633.29 126.64 632.24 123.57 631.49 121.09 C630.74 118.60 630.01 116.12 629.59 114.46 C629.17 112.80 629.02 112.49 628.99 111.15 C628.96 109.80 629.19 108.00 629.39 106.38 C629.59 104.76 629.84 103.07 630.19 101.41 C630.54 99.76 631.02 98.44 631.49 96.44 C631.96 94.44 632.74 90.57 632.99 89.40 Z" fill="#a750d8" stroke="#1a1a1a" stroke-width="1.90" stroke-linejoin="round"/>
<line x1="630.14" y1="118.19" x2="646.24" y2="118.19" stroke="#fff" stroke-width="3.6" stroke-dasharray="4.2 8.2" stroke-linecap="round"/>
<rect x="675.50" y="85.50" width="24.00" height="24.00" fill="#4a51b4" stroke="#1a1a1a" stroke-width="1.2"/>
<rect x="675.50" y="164.30" width="24.00" height="24.00" fill="#7ed321" stroke="#1a1a1a" stroke-width="1.2"/>
<rect x="675.50" y="260.20" width="24.00" height="24.00" fill="#a750d8" stroke="#1a1a1a" stroke-width="1.2"/>
<text x="710.20" y="90.00" font-size="24.4" text-anchor="start" fill="#000" stroke="#000" stroke-width="0.5" font-weight="normal">Skin</text>
<text x="710.20" y="122.50" font-size="24.4" text-anchor="start" fill="#000" stroke="#000" stroke-width="0.5" font-weight="normal">T<tspan dy="7.5">reg</tspan></text>
<text x="710.20" y="169.00" font-size="24.4" text-anchor="start" fill="#000" stroke="#000" stroke-width="0.5" font-weight="normal">Fat</text>
<text x="710.20" y="201.10" font-size="24.4" text-anchor="start" fill="#000" stroke="#000" stroke-width="0.5" font-weight="normal">T<tspan dy="7.5">reg</tspan></text>
<text x="710.20" y="250.00" font-size="24.4" text-anchor="start" fill="#000" stroke="#000" stroke-width="0.5" font-weight="normal">Blood</text>
<text x="710.20" y="283.00" font-size="24.4" text-anchor="start" fill="#000" stroke="#000" stroke-width="0.5" font-weight="normal">RA<tspan dy="-7">+</tspan></text>
<text x="710.20" y="315.50" font-size="24.4" text-anchor="start" fill="#000" stroke="#000" stroke-width="0.5" font-weight="normal">T<tspan dy="7.5">reg</tspan></text>
<line x1="880.80" y1="66.90" x2="880.80" y2="297.90" stroke="#000" stroke-width="1.8"/>
<line x1="876.30" y1="297.00" x2="1112.80" y2="297.00" stroke="#000" stroke-width="1.8"/>
<line x1="876.30" y1="67.38" x2="880.80" y2="67.38" stroke="#000" stroke-width="1.8"/>
<text x="872.20" y="78.70" font-size="25.0" text-anchor="end" fill="#000" stroke="#000" stroke-width="0.5" font-weight="normal">6</text>
<line x1="876.30" y1="105.65" x2="880.80" y2="105.65" stroke="#000" stroke-width="1.8"/>
<text x="872.20" y="116.70" font-size="25.0" text-anchor="end" fill="#000" stroke="#000" stroke-width="0.5" font-weight="normal">5</text>
<line x1="876.30" y1="143.92" x2="880.80" y2="143.92" stroke="#000" stroke-width="1.8"/>
<text x="872.20" y="154.70" font-size="25.0" text-anchor="end" fill="#000" stroke="#000" stroke-width="0.5" font-weight="normal">4</text>
<line x1="876.30" y1="182.19" x2="880.80" y2="182.19" stroke="#000" stroke-width="1.8"/>
<text x="872.20" y="192.70" font-size="25.0" text-anchor="end" fill="#000" stroke="#000" stroke-width="0.5" font-weight="normal">3</text>
<line x1="876.30" y1="220.46" x2="880.80" y2="220.46" stroke="#000" stroke-width="1.8"/>
<text x="872.20" y="230.70" font-size="25.0" text-anchor="end" fill="#000" stroke="#000" stroke-width="0.5" font-weight="normal">2</text>
<line x1="876.30" y1="258.73" x2="880.80" y2="258.73" stroke="#000" stroke-width="1.8"/>
<text x="872.20" y="268.70" font-size="25.0" text-anchor="end" fill="#000" stroke="#000" stroke-width="0.5" font-weight="normal">1</text>
<line x1="876.30" y1="297.00" x2="880.80" y2="297.00" stroke="#000" stroke-width="1.8"/>
<text x="872.20" y="306.70" font-size="25.0" text-anchor="end" fill="#000" stroke="#000" stroke-width="0.5" font-weight="normal">0</text>
<line x1="955.30" y1="297.00" x2="955.30" y2="302.20" stroke="#000" stroke-width="1.8"/>
<line x1="1043.40" y1="297.00" x2="1043.40" y2="302.20" stroke="#000" stroke-width="1.8"/>
<text x="955.30" y="320.60" font-size="24.4" text-anchor="middle" fill="#000" stroke="#000" stroke-width="0.5" font-weight="normal">−0.5</text>
<text x="1043.90" y="320.60" font-size="24.4" text-anchor="middle" fill="#000" stroke="#000" stroke-width="0.5" font-weight="normal">0.0</text>
<text x="912.40" y="55.90" font-size="25.3" text-anchor="start" fill="#000" stroke="#000" stroke-width="0.5" font-weight="normal" letter-spacing="-0.8">HERVIP10F<tspan font-size="22" dy="-1.0" dx="0.9">–</tspan><tspan dy="1.0" dx="0.9">int</tspan></text>
<text x="816.30" y="188.85" font-size="25.0" text-anchor="middle" fill="#000" stroke="#000" stroke-width="0.5" font-weight="normal" transform="rotate(-90 816.30 188.85)">Density of TE insertion</text>
<text x="847.30" y="188.80" font-size="24.95" text-anchor="middle" fill="#000" stroke="#000" stroke-width="0.5" font-weight="normal" transform="rotate(-90 847.30 188.80)">sites (Arbitrary units)</text>
<text x="1142.30" y="348.00" font-size="25.05" text-anchor="middle" fill="#000" stroke="#000" stroke-width="0.5" font-weight="normal">Diff. in mean methylation across samples</text>
<line x1="1043.40" y1="66.60" x2="1043.40" y2="296.50" stroke="#000" stroke-width="1.7" stroke-dasharray="17.2 18.1"/>
<path d="M985.80 296.30 C987.45 295.93 992.13 295.42 995.70 294.10 C999.27 292.78 1004.20 291.27 1007.20 288.40 C1010.20 285.53 1011.78 281.83 1013.70 276.90 C1015.62 271.97 1017.05 265.65 1018.70 258.80 C1020.35 251.95 1021.97 244.83 1023.60 235.80 C1025.23 226.77 1027.13 218.57 1028.50 204.60 C1029.87 190.63 1030.43 166.80 1031.80 152.00 C1033.17 137.20 1035.05 126.48 1036.70 115.80 C1038.35 105.12 1040.40 94.47 1041.70 87.90 C1043.00 81.33 1043.55 76.40 1044.50 76.40 C1045.45 76.40 1046.50 82.42 1047.40 87.90 C1048.30 93.38 1048.93 101.08 1049.90 109.30 C1050.87 117.52 1052.12 126.25 1053.20 137.20 C1054.28 148.15 1055.32 161.03 1056.40 175.00 C1057.48 188.97 1058.60 207.85 1059.70 221.00 C1060.80 234.15 1062.03 245.95 1063.00 253.90 C1063.97 261.85 1064.13 266.02 1065.50 268.70 C1066.87 271.38 1069.15 267.82 1071.20 270.00 C1073.25 272.18 1075.33 278.18 1077.80 281.80 C1080.27 285.42 1083.27 289.37 1086.00 291.70 C1088.73 294.03 1091.47 295.20 1094.20 295.80 C1096.93 296.40 1101.03 295.38 1102.40 295.30" fill="none" stroke="#76cf24" stroke-width="1.7" stroke-linecap="butt" stroke-linejoin="round" stroke-dasharray="4.4 3.2"/>
<path d="M946.40 296.30 C949.13 295.67 958.70 293.42 962.80 292.50 C966.90 291.58 968.53 292.03 971.00 290.80 C973.47 289.57 975.13 289.33 977.60 285.10 C980.07 280.87 983.60 269.02 985.80 265.40 C988.00 261.78 989.15 264.08 990.80 263.40 C992.45 262.72 994.07 264.25 995.70 261.30 C997.33 258.35 998.68 255.15 1000.60 245.70 C1002.52 236.25 1005.42 215.55 1007.20 204.60 C1008.98 193.65 1009.83 190.77 1011.30 180.00 C1012.77 169.23 1014.55 149.92 1016.00 140.00 C1017.45 130.08 1018.78 124.45 1020.00 120.50 C1021.22 116.55 1022.22 116.22 1023.30 116.30 C1024.38 116.38 1025.38 116.22 1026.50 121.00 C1027.62 125.78 1028.90 135.17 1030.00 145.00 C1031.10 154.83 1031.15 166.78 1033.10 180.00 C1035.05 193.22 1039.18 211.17 1041.70 224.30 C1044.22 237.43 1046.02 248.95 1048.20 258.80 C1050.38 268.65 1052.60 277.92 1054.80 283.40 C1057.00 288.88 1058.67 289.78 1061.40 291.70 C1064.13 293.62 1067.93 294.13 1071.20 294.90 C1074.47 295.67 1079.37 296.07 1081.00 296.30" fill="none" stroke="#555" stroke-width="1.9" stroke-linecap="round" stroke-linejoin="round"/>
<path d="M939.90 296.30 C942.08 295.38 949.48 291.60 953.00 290.80 C956.52 290.00 958.27 291.22 961.00 291.50 C963.73 291.78 966.90 293.30 969.40 292.50 C971.90 291.70 973.27 291.63 976.00 286.70 C978.73 281.77 983.07 267.68 985.80 262.90 C988.53 258.12 990.20 260.87 992.40 258.00 C994.60 255.13 996.82 253.23 999.00 245.70 C1001.18 238.17 1003.58 223.75 1005.50 212.80 C1007.42 201.85 1008.75 188.80 1010.50 180.00 C1012.25 171.20 1014.03 164.27 1016.00 160.00 C1017.97 155.73 1020.30 154.07 1022.30 154.40 C1024.30 154.73 1026.28 157.73 1028.00 162.00 C1029.72 166.27 1030.32 172.90 1032.60 180.00 C1034.88 187.10 1039.10 193.65 1041.70 204.60 C1044.30 215.55 1046.02 233.65 1048.20 245.70 C1050.38 257.75 1052.60 269.78 1054.80 276.90 C1057.00 284.02 1058.67 285.67 1061.40 288.40 C1064.13 291.13 1068.47 292.48 1071.20 293.30 C1073.93 294.12 1075.33 292.88 1077.80 293.30 C1080.27 293.72 1084.63 295.38 1086.00 295.80" fill="none" stroke="#47b4d5" stroke-width="2.3" stroke-linecap="round" stroke-linejoin="round"/>
<text x="884.00" y="82.10" font-size="25.1" text-anchor="start" fill="#47b4d5" stroke="#47b4d5" stroke-width="0.15" font-weight="normal">340</text>
<text x="1113.50" y="82.10" font-size="25.1" text-anchor="end" fill="#47b4d5" stroke="#47b4d5" stroke-width="0.15" font-weight="normal">37</text>
<text x="884.00" y="103.65" font-size="25.1" text-anchor="start" fill="#76cf24" stroke="#76cf24" stroke-width="0.15" font-weight="normal">185</text>
<text x="1072.40" y="103.65" font-size="25.1" text-anchor="start" fill="#76cf24" stroke="#76cf24" stroke-width="0.15" font-weight="normal" textLength="38.2" lengthAdjust="spacingAndGlyphs">191</text>
<text x="884.00" y="125.20" font-size="25.1" text-anchor="start" fill="#555" stroke="#555" stroke-width="0.15" font-weight="normal">350</text>
<text x="1113.50" y="125.20" font-size="25.1" text-anchor="end" fill="#555" stroke="#555" stroke-width="0.15" font-weight="normal">27</text>
<line x1="1197.10" y1="65.60" x2="1197.10" y2="296.60" stroke="#000" stroke-width="1.8"/>
<line x1="1192.60" y1="295.70" x2="1427.80" y2="295.70" stroke="#000" stroke-width="1.8"/>
<line x1="1192.60" y1="65.80" x2="1197.10" y2="65.80" stroke="#000" stroke-width="1.8"/>
<text x="1191.40" y="74.50" font-size="25.0" text-anchor="end" fill="#000" stroke="#000" stroke-width="0.5" font-weight="normal">6</text>
<line x1="1192.60" y1="104.10" x2="1197.10" y2="104.10" stroke="#000" stroke-width="1.8"/>
<text x="1191.40" y="112.52" font-size="25.0" text-anchor="end" fill="#000" stroke="#000" stroke-width="0.5" font-weight="normal">5</text>
<line x1="1192.60" y1="142.40" x2="1197.10" y2="142.40" stroke="#000" stroke-width="1.8"/>
<text x="1191.40" y="150.54" font-size="25.0" text-anchor="end" fill="#000" stroke="#000" stroke-width="0.5" font-weight="normal">4</text>
<line x1="1192.60" y1="180.70" x2="1197.10" y2="180.70" stroke="#000" stroke-width="1.8"/>
<text x="1191.40" y="188.56" font-size="25.0" text-anchor="end" fill="#000" stroke="#000" stroke-width="0.5" font-weight="normal">3</text>
<line x1="1192.60" y1="219.00" x2="1197.10" y2="219.00" stroke="#000" stroke-width="1.8"/>
<text x="1191.40" y="226.58" font-size="25.0" text-anchor="end" fill="#000" stroke="#000" stroke-width="0.5" font-weight="normal">2</text>
<line x1="1192.60" y1="257.30" x2="1197.10" y2="257.30" stroke="#000" stroke-width="1.8"/>
<text x="1191.40" y="264.60" font-size="25.0" text-anchor="end" fill="#000" stroke="#000" stroke-width="0.5" font-weight="normal">1</text>
<line x1="1192.60" y1="295.60" x2="1197.10" y2="295.60" stroke="#000" stroke-width="1.8"/>
<text x="1191.40" y="302.62" font-size="25.0" text-anchor="end" fill="#000" stroke="#000" stroke-width="0.5" font-weight="normal">0</text>
<line x1="1271.80" y1="295.70" x2="1271.80" y2="300.90" stroke="#000" stroke-width="1.8"/>
<line x1="1359.00" y1="295.70" x2="1359.00" y2="300.90" stroke="#000" stroke-width="1.8"/>
<text x="1285.50" y="320.60" font-size="24.4" text-anchor="middle" fill="#000" stroke="#000" stroke-width="0.5" font-weight="normal">−0.5</text>
<text x="1386.80" y="320.60" font-size="24.4" text-anchor="middle" fill="#000" stroke="#000" stroke-width="0.5" font-weight="normal">0.0</text>
<text x="1284.40" y="55.60" font-size="25.5" text-anchor="start" fill="#000" stroke="#000" stroke-width="0.5" font-weight="normal" textLength="88.2" lengthAdjust="spacing">LTR45B</text>
<text x="1136.00" y="184.70" font-size="25.0" text-anchor="middle" fill="#000" stroke="#000" stroke-width="0.5" font-weight="normal" transform="rotate(-90 1136.00 184.70)">Density of TE insertion</text>
<text x="1167.00" y="184.50" font-size="24.95" text-anchor="middle" fill="#000" stroke="#000" stroke-width="0.5" font-weight="normal" transform="rotate(-90 1167.00 184.50)">sites (Arbitrary units)</text>
<line x1="1359.00" y1="65.60" x2="1359.00" y2="295.30" stroke="#000" stroke-width="1.7" stroke-dasharray="17.2 18.1"/>
<path d="M1288.50 294.50 C1290.15 293.77 1295.12 292.88 1298.40 290.10 C1301.68 287.32 1304.92 281.50 1308.20 277.80 C1311.48 274.10 1314.82 272.42 1318.10 267.90 C1321.38 263.38 1324.62 257.67 1327.90 250.70 C1331.18 243.73 1334.52 235.13 1337.80 226.10 C1341.08 217.07 1344.93 206.77 1347.60 196.50 C1350.27 186.23 1351.95 173.53 1353.80 164.50 C1355.65 155.47 1357.35 146.82 1358.70 142.30 C1360.05 137.78 1360.67 136.17 1361.90 137.40 C1363.13 138.63 1364.37 140.67 1366.10 149.70 C1367.83 158.73 1370.03 177.23 1372.30 191.60 C1374.57 205.97 1377.25 222.77 1379.70 235.90 C1382.15 249.03 1384.55 263.02 1387.00 270.40 C1389.45 277.78 1391.52 277.12 1394.40 280.20 C1397.28 283.28 1401.02 286.52 1404.30 288.90 C1407.58 291.28 1412.47 293.57 1414.10 294.50" fill="none" stroke="#76cf24" stroke-width="1.7" stroke-linecap="butt" stroke-linejoin="round" stroke-dasharray="4.4 3.2"/>
<path d="M1263.90 294.50 C1265.95 293.97 1272.10 293.27 1276.20 291.30 C1280.30 289.33 1284.80 286.18 1288.50 282.70 C1292.20 279.22 1295.12 276.55 1298.40 270.40 C1301.68 264.25 1304.92 254.83 1308.20 245.80 C1311.48 236.77 1315.22 226.05 1318.10 216.20 C1320.98 206.35 1323.45 194.30 1325.50 186.70 C1327.55 179.10 1328.97 173.90 1330.40 170.60 C1331.83 167.30 1332.47 166.68 1334.10 166.90 C1335.73 167.12 1337.95 169.43 1340.20 171.90 C1342.45 174.37 1345.33 177.18 1347.60 181.70 C1349.87 186.22 1351.73 191.20 1353.80 199.00 C1355.87 206.80 1357.75 218.25 1360.00 228.50 C1362.25 238.75 1364.43 251.05 1367.30 260.50 C1370.17 269.95 1373.92 279.65 1377.20 285.20 C1380.48 290.75 1383.30 292.65 1387.00 293.80 C1390.70 294.95 1395.70 291.98 1399.40 292.10 C1403.10 292.22 1407.57 294.10 1409.20 294.50" fill="none" stroke="#555" stroke-width="1.9" stroke-linecap="round" stroke-linejoin="round"/>
<path d="M1207.20 294.50 C1213.78 294.18 1237.67 293.75 1246.70 292.60 C1255.73 291.45 1257.30 288.55 1261.40 287.60 C1265.50 286.65 1267.60 288.13 1271.30 286.90 C1275.00 285.67 1279.92 282.95 1283.60 280.20 C1287.28 277.45 1290.12 275.32 1293.40 270.40 C1296.68 265.48 1300.00 257.68 1303.30 250.70 C1306.60 243.72 1309.92 234.67 1313.20 228.50 C1316.48 222.33 1320.13 219.85 1323.00 213.70 C1325.87 207.55 1328.35 196.72 1330.40 191.60 C1332.45 186.48 1333.73 184.77 1335.30 183.00 C1336.87 181.23 1337.75 180.18 1339.80 181.00 C1341.85 181.82 1345.07 183.27 1347.60 187.90 C1350.13 192.53 1352.53 200.38 1355.00 208.80 C1357.47 217.22 1359.93 228.95 1362.40 238.40 C1364.87 247.85 1366.92 257.70 1369.80 265.50 C1372.68 273.30 1376.42 280.57 1379.70 285.20 C1382.98 289.83 1385.82 291.98 1389.50 293.30 C1393.18 294.62 1398.10 292.90 1401.80 293.10 C1405.50 293.30 1410.05 294.27 1411.70 294.50" fill="none" stroke="#47b4d5" stroke-width="2.3" stroke-linecap="round" stroke-linejoin="round"/>
<text x="1200.50" y="79.80" font-size="25.1" text-anchor="start" fill="#47b4d5" stroke="#47b4d5" stroke-width="0.15" font-weight="normal">278</text>
<text x="1418.60" y="79.80" font-size="25.1" text-anchor="end" fill="#47b4d5" stroke="#47b4d5" stroke-width="0.15" font-weight="normal">36</text>
<text x="1201.40" y="101.50" font-size="25.1" text-anchor="start" fill="#76cf24" stroke="#76cf24" stroke-width="0.15" font-weight="normal" textLength="38.2" lengthAdjust="spacingAndGlyphs">171</text>
<text x="1418.60" y="101.50" font-size="25.1" text-anchor="end" fill="#76cf24" stroke="#76cf24" stroke-width="0.15" font-weight="normal">144</text>
<text x="1200.50" y="123.20" font-size="25.1" text-anchor="start" fill="#555" stroke="#555" stroke-width="0.15" font-weight="normal">278</text>
<text x="1418.60" y="123.20" font-size="25.1" text-anchor="end" fill="#555" stroke="#555" stroke-width="0.15" font-weight="normal">37</text>
<line x1="1436.00" y1="94.20" x2="1491.40" y2="94.20" stroke="#555" stroke-width="1.6"/>
<line x1="1436.00" y1="177.60" x2="1491.40" y2="177.60" stroke="#47b4d5" stroke-width="2"/>
<line x1="1436.00" y1="252.80" x2="1491.40" y2="252.80" stroke="#76cf24" stroke-width="1.6" stroke-dasharray="4.5 3.5"/>
<text x="1498.30" y="87.20" font-size="25.0" text-anchor="start" fill="#000" stroke="#000" stroke-width="0.5" font-weight="normal">Fat T<tspan dy="8.0">reg</tspan><tspan dy="-8.0"> vs.</tspan></text>
<text x="1498.60" y="116.70" font-size="25.0" text-anchor="start" fill="#000" stroke="#000" stroke-width="0.5" font-weight="normal">blood RA<tspan dy="-4.2">+</tspan><tspan dy="4.2"> T</tspan><tspan dy="7.8">reg</tspan></text>
<text x="1500.10" y="167.50" font-size="25.0" text-anchor="start" fill="#000" stroke="#000" stroke-width="0.5" font-weight="normal">Skin T<tspan dy="6.4">reg</tspan><tspan dy="-6.4"> vs.</tspan></text>
<text x="1500.10" y="197.20" font-size="25.0" text-anchor="start" fill="#000" stroke="#000" stroke-width="0.5" font-weight="normal">blood RA<tspan dy="-4.2">+</tspan><tspan dy="4.2"> T</tspan><tspan dy="6.8">reg</tspan></text>
<text x="1501.40" y="246.50" font-size="25.0" text-anchor="start" fill="#000" stroke="#000" stroke-width="0.5" font-weight="normal">Skin T<tspan dy="6.2">reg</tspan></text>
<text x="1501.40" y="274.90" font-size="25.0" text-anchor="start" fill="#000" stroke="#000" stroke-width="0.5" font-weight="normal">vs. fat T<tspan dy="6.3">reg</tspan></text>
<line x1="99.30" y1="492.90" x2="99.30" y2="722.80" stroke="#000" stroke-width="1.8"/>
<line x1="90.30" y1="721.90" x2="717.00" y2="721.90" stroke="#000" stroke-width="1.8"/>
<line x1="90.30" y1="498.20" x2="99.30" y2="498.20" stroke="#000" stroke-width="1.8"/>
<text x="41.60" y="505.20" font-size="25.6" text-anchor="start" fill="#000" stroke="#000" stroke-width="0.5" font-weight="normal" textLength="48.4" lengthAdjust="spacing">1.20</text>
<line x1="90.30" y1="554.15" x2="99.30" y2="554.15" stroke="#000" stroke-width="1.8"/>
<text x="41.60" y="560.60" font-size="25.6" text-anchor="start" fill="#000" stroke="#000" stroke-width="0.5" font-weight="normal" textLength="48.4" lengthAdjust="spacing">0.90</text>
<line x1="90.30" y1="610.10" x2="99.30" y2="610.10" stroke="#000" stroke-width="1.8"/>
<text x="41.60" y="616.00" font-size="25.6" text-anchor="start" fill="#000" stroke="#000" stroke-width="0.5" font-weight="normal" textLength="48.4" lengthAdjust="spacing">0.60</text>
<line x1="90.30" y1="666.05" x2="99.30" y2="666.05" stroke="#000" stroke-width="1.8"/>
<text x="41.60" y="671.40" font-size="25.6" text-anchor="start" fill="#000" stroke="#000" stroke-width="0.5" font-weight="normal" textLength="48.4" lengthAdjust="spacing">0.30</text>
<line x1="90.30" y1="722.00" x2="99.30" y2="722.00" stroke="#000" stroke-width="1.8"/>
<text x="41.60" y="726.80" font-size="25.6" text-anchor="start" fill="#000" stroke="#000" stroke-width="0.5" font-weight="normal" textLength="48.4" lengthAdjust="spacing">0.00</text>
<line x1="159.00" y1="721.90" x2="159.00" y2="728.90" stroke="#000" stroke-width="1.8"/>
<line x1="258.30" y1="721.90" x2="258.30" y2="728.90" stroke="#000" stroke-width="1.8"/>
<line x1="357.90" y1="721.90" x2="357.90" y2="728.90" stroke="#000" stroke-width="1.8"/>
<line x1="457.50" y1="721.90" x2="457.50" y2="728.90" stroke="#000" stroke-width="1.8"/>
<line x1="557.20" y1="721.90" x2="557.20" y2="728.90" stroke="#000" stroke-width="1.8"/>
<line x1="656.90" y1="721.90" x2="656.90" y2="728.90" stroke="#000" stroke-width="1.8"/>
<text x="323.90" y="498.60" font-size="25.3" text-anchor="start" fill="#000" stroke="#000" stroke-width="0.5" font-weight="normal" letter-spacing="-0.87">HERVIP10F<tspan font-size="22" dy="-1.0" dx="0.9">–</tspan><tspan dy="1.0" dx="0.9">int</tspan></text>
<text x="34.40" y="608.40" font-size="25.0" text-anchor="middle" fill="#000" stroke="#000" stroke-width="0.5" font-weight="normal" transform="rotate(-90 34.40 608.40)">Mean norm. acc.</text>
<path d="M160.00 592.30 C160.00 593.58 159.99 597.55 160.00 600.00 C160.01 602.45 159.89 604.00 160.05 607.00 C160.21 610.00 160.63 613.88 160.95 618.00 C161.27 622.12 161.77 625.98 161.95 631.70 C162.13 637.42 161.95 646.75 162.05 652.30 C162.15 657.85 162.28 661.55 162.55 665.00 C162.82 668.45 163.20 670.50 163.65 673.00 C164.10 675.50 164.62 677.58 165.25 680.00 C165.88 682.42 166.57 684.53 167.45 687.50 C168.33 690.47 169.50 694.37 170.55 697.80 C171.60 701.23 173.12 705.40 173.75 708.10 C174.38 710.80 174.32 712.35 174.35 714.00 C174.38 715.65 174.35 716.83 173.95 718.00 C173.55 719.17 172.28 720.50 171.95 721.00 L145.65 721.00 C145.32 720.50 144.05 719.17 143.65 718.00 C143.25 716.83 143.22 715.65 143.25 714.00 C143.28 712.35 143.22 710.80 143.85 708.10 C144.48 705.40 146.00 701.23 147.05 697.80 C148.10 694.37 149.27 690.47 150.15 687.50 C151.03 684.53 151.72 682.42 152.35 680.00 C152.98 677.58 153.50 675.50 153.95 673.00 C154.40 670.50 154.78 668.45 155.05 665.00 C155.32 661.55 155.45 657.85 155.55 652.30 C155.65 646.75 155.47 637.42 155.65 631.70 C155.83 625.98 156.33 622.12 156.65 618.00 C156.97 613.88 157.39 610.00 157.55 607.00 C157.71 604.00 157.59 602.45 157.60 600.00 C157.61 597.55 157.60 593.58 157.60 592.30 Z" fill="#4a51b4" stroke="#1a1a1a" stroke-width="2.00" stroke-linejoin="round"/>
<line x1="149.50" y1="697.80" x2="166.10" y2="697.80" stroke="#fff" stroke-width="4.0" stroke-dasharray="3.9 8.4" stroke-linecap="round"/>
<path d="M258.95 513.30 C258.90 514.42 258.72 512.22 258.65 520.00 C258.58 527.78 258.56 545.52 258.55 560.00 C258.54 574.48 258.43 596.68 258.60 606.90 C258.77 617.12 259.12 615.45 259.55 621.30 C259.98 627.15 260.63 635.10 261.15 642.00 C261.67 648.90 262.23 656.85 262.65 662.70 C263.07 668.55 263.13 672.97 263.65 677.10 C264.17 681.23 265.07 684.73 265.75 687.50 C266.43 690.27 266.90 690.95 267.75 693.70 C268.60 696.45 270.22 701.12 270.85 704.00 C271.48 706.88 271.47 708.92 271.55 711.00 C271.63 713.08 271.70 714.83 271.35 716.50 C271.00 718.17 269.77 720.25 269.45 721.00 L247.15 721.00 C246.83 720.25 245.60 718.17 245.25 716.50 C244.90 714.83 244.97 713.08 245.05 711.00 C245.13 708.92 245.12 706.88 245.75 704.00 C246.38 701.12 248.00 696.45 248.85 693.70 C249.70 690.95 250.17 690.27 250.85 687.50 C251.53 684.73 252.43 681.23 252.95 677.10 C253.47 672.97 253.53 668.55 253.95 662.70 C254.37 656.85 254.93 648.90 255.45 642.00 C255.97 635.10 256.62 627.15 257.05 621.30 C257.48 615.45 257.83 617.12 258.00 606.90 C258.17 596.68 258.06 574.48 258.05 560.00 C258.04 545.52 258.02 527.78 257.95 520.00 C257.88 512.22 257.70 514.42 257.65 513.30 Z" fill="#4a51b4" stroke="#1a1a1a" stroke-width="2.00" stroke-linejoin="round"/>
<line x1="250.00" y1="693.70" x2="266.50" y2="693.70" stroke="#fff" stroke-width="4.0" stroke-dasharray="3.9 8.4" stroke-linecap="round"/>
<path d="M362.30 591.70 C362.23 591.95 362.54 591.73 361.90 593.20 C361.26 594.67 359.02 599.28 358.45 600.50 L358.45 600.50 L358.45 615.50 L358.45 615.50 C358.59 615.83 358.82 616.58 359.30 617.50 C359.77 618.42 360.78 619.75 361.30 621.00 C361.82 622.25 362.40 623.67 362.40 625.00 C362.40 626.33 361.78 627.83 361.30 629.00 C360.82 630.17 359.95 631.17 359.50 632.00 C359.05 632.83 358.77 633.17 358.60 634.00 C358.42 634.83 358.43 636.00 358.45 637.00 C358.47 638.00 358.46 639.08 358.70 640.00 C358.94 640.92 359.42 641.58 359.90 642.50 C360.38 643.42 361.20 644.55 361.60 645.50 C362.00 646.45 362.28 647.20 362.30 648.20 C362.32 649.20 361.98 650.38 361.70 651.50 C361.42 652.62 360.60 653.77 360.60 654.90 C360.60 656.03 361.42 657.17 361.70 658.30 C361.98 659.43 362.33 660.62 362.30 661.70 C362.27 662.78 361.90 663.83 361.50 664.80 C361.10 665.77 360.35 666.67 359.90 667.50 C359.45 668.33 359.03 669.13 358.80 669.80 C358.57 670.47 358.55 671.22 358.50 671.50 L358.50 671.50 L358.50 687.50 L358.50 687.50 C358.70 688.00 358.85 689.42 359.70 690.50 C360.55 691.58 361.78 692.97 363.60 694.00 C365.42 695.03 368.28 695.83 370.60 696.70 C372.92 697.57 375.18 698.43 377.50 699.20 C379.82 699.97 382.57 700.73 384.50 701.30 C386.43 701.87 387.77 702.05 389.10 702.60 C390.43 703.15 391.85 704.00 392.50 704.60 C393.15 705.20 392.92 705.93 393.00 706.20 L393.00 706.20 C392.75 706.60 392.45 707.73 391.50 708.60 C390.55 709.47 389.05 710.35 387.30 711.40 C385.55 712.45 382.98 713.80 381.00 714.90 C379.02 716.00 377.02 717.13 375.40 718.00 C373.78 718.87 372.23 719.60 371.30 720.10 C370.37 720.60 370.05 720.85 369.80 721.00 L346.50 721.00 C346.25 720.85 345.93 720.60 345.00 720.10 C344.07 719.60 342.52 718.87 340.90 718.00 C339.28 717.13 337.28 716.00 335.30 714.90 C333.32 713.80 330.75 712.45 329.00 711.40 C327.25 710.35 325.75 709.47 324.80 708.60 C323.85 707.73 323.55 706.60 323.30 706.20 L323.30 706.20 C323.38 705.93 323.15 705.20 323.80 704.60 C324.45 704.00 325.87 703.15 327.20 702.60 C328.53 702.05 329.87 701.87 331.80 701.30 C333.73 700.73 336.48 699.97 338.80 699.20 C341.12 698.43 343.38 697.57 345.70 696.70 C348.02 695.83 350.88 695.03 352.70 694.00 C354.52 692.97 355.75 691.58 356.60 690.50 C357.45 689.42 357.60 688.00 357.80 687.50 L357.80 687.50 L357.80 671.50 L357.80 671.50 C357.75 671.22 357.73 670.47 357.50 669.80 C357.27 669.13 356.85 668.33 356.40 667.50 C355.95 666.67 355.20 665.77 354.80 664.80 C354.40 663.83 354.03 662.78 354.00 661.70 C353.97 660.62 354.32 659.43 354.60 658.30 C354.88 657.17 355.70 656.03 355.70 654.90 C355.70 653.77 354.88 652.62 354.60 651.50 C354.32 650.38 353.98 649.20 354.00 648.20 C354.02 647.20 354.30 646.45 354.70 645.50 C355.10 644.55 355.92 643.42 356.40 642.50 C356.88 641.58 357.36 640.92 357.60 640.00 C357.84 639.08 357.83 638.00 357.85 637.00 C357.87 636.00 357.88 634.83 357.70 634.00 C357.52 633.17 357.25 632.83 356.80 632.00 C356.35 631.17 355.48 630.17 355.00 629.00 C354.52 627.83 353.90 626.33 353.90 625.00 C353.90 623.67 354.48 622.25 355.00 621.00 C355.52 619.75 356.52 618.42 357.00 617.50 C357.48 616.58 357.71 615.83 357.85 615.50 L357.85 615.50 L357.85 600.50 L357.85 600.50 C357.27 599.28 355.04 594.67 354.40 593.20 C353.76 591.73 354.07 591.95 354.00 591.70 Z" fill="#e9a427" stroke="#1a1a1a" stroke-width="2.00" stroke-linejoin="round"/>
<line x1="324.75" y1="705.00" x2="391.15" y2="705.00" stroke="#fff" stroke-width="4.0" stroke-dasharray="3.8 8.6" stroke-linecap="round"/>
<path d="M460.45 605.60 C460.46 606.67 460.50 607.93 460.50 612.00 C460.50 616.07 460.48 625.00 460.45 630.00 C460.42 635.00 460.47 638.33 460.35 642.00 C460.23 645.67 459.92 649.25 459.75 652.00 C459.58 654.75 459.40 655.68 459.35 658.50 C459.30 661.32 459.23 665.80 459.45 668.90 C459.67 672.00 460.10 674.70 460.65 677.10 C461.20 679.50 461.83 681.23 462.75 683.30 C463.67 685.37 464.73 687.43 466.15 689.50 C467.57 691.57 469.78 693.80 471.25 695.70 C472.72 697.60 473.92 699.17 474.95 700.90 C475.98 702.63 476.95 704.38 477.45 706.10 C477.95 707.82 478.22 709.65 477.95 711.20 C477.68 712.75 476.92 714.02 475.85 715.40 C474.78 716.78 472.77 718.57 471.55 719.50 C470.33 720.43 469.05 720.75 468.55 721.00 L446.25 721.00 C445.75 720.75 444.47 720.43 443.25 719.50 C442.03 718.57 440.02 716.78 438.95 715.40 C437.88 714.02 437.12 712.75 436.85 711.20 C436.58 709.65 436.85 707.82 437.35 706.10 C437.85 704.38 438.82 702.63 439.85 700.90 C440.88 699.17 442.08 697.60 443.55 695.70 C445.02 693.80 447.23 691.57 448.65 689.50 C450.07 687.43 451.13 685.37 452.05 683.30 C452.97 681.23 453.60 679.50 454.15 677.10 C454.70 674.70 455.13 672.00 455.35 668.90 C455.57 665.80 455.50 661.32 455.45 658.50 C455.40 655.68 455.22 654.75 455.05 652.00 C454.88 649.25 454.57 645.67 454.45 642.00 C454.33 638.33 454.38 635.00 454.35 630.00 C454.32 625.00 454.30 616.07 454.30 612.00 C454.30 607.93 454.34 606.67 454.35 605.60 Z" fill="#e9a427" stroke="#1a1a1a" stroke-width="2.00" stroke-linejoin="round"/>
<line x1="441.60" y1="700.90" x2="470.90" y2="700.90" stroke="#fff" stroke-width="4.0" stroke-dasharray="3.9 8.4" stroke-linecap="round"/>
<path d="M560.65 603.80 C560.57 604.17 560.48 604.80 560.15 606.00 C559.82 607.20 558.38 609.13 558.65 611.00 C558.92 612.87 560.63 615.37 561.75 617.20 C562.87 619.03 564.50 620.45 565.35 622.00 C566.20 623.55 566.88 625.08 566.85 626.50 C566.82 627.92 566.00 629.30 565.15 630.50 C564.30 631.70 562.78 632.62 561.75 633.70 C560.72 634.78 559.62 635.97 558.95 637.00 C558.28 638.03 557.97 636.07 557.75 639.90 C557.53 643.73 557.65 652.07 557.65 660.00 C557.65 667.93 557.55 682.50 557.75 687.50 C557.95 692.50 558.35 689.15 558.85 690.00 C559.35 690.85 559.90 691.77 560.75 692.60 C561.60 693.43 562.52 694.13 563.95 695.00 C565.38 695.87 567.20 696.65 569.35 697.80 C571.50 698.95 574.65 700.35 576.85 701.90 C579.05 703.45 581.25 705.37 582.55 707.10 C583.85 708.83 584.50 710.75 584.65 712.30 C584.80 713.85 584.52 715.10 583.45 716.40 C582.38 717.70 579.57 719.30 578.25 720.10 C576.93 720.90 576.00 721.02 575.55 721.20 L539.25 721.20 C538.80 721.02 537.87 720.90 536.55 720.10 C535.23 719.30 532.42 717.70 531.35 716.40 C530.28 715.10 530.00 713.85 530.15 712.30 C530.30 710.75 530.95 708.83 532.25 707.10 C533.55 705.37 535.75 703.45 537.95 701.90 C540.15 700.35 543.30 698.95 545.45 697.80 C547.60 696.65 549.42 695.87 550.85 695.00 C552.28 694.13 553.20 693.43 554.05 692.60 C554.90 691.77 555.45 690.85 555.95 690.00 C556.45 689.15 556.85 692.50 557.05 687.50 C557.25 682.50 557.15 667.93 557.15 660.00 C557.15 652.07 557.27 643.73 557.05 639.90 C556.83 636.07 556.52 638.03 555.85 637.00 C555.18 635.97 554.08 634.78 553.05 633.70 C552.02 632.62 550.50 631.70 549.65 630.50 C548.80 629.30 547.98 627.92 547.95 626.50 C547.92 625.08 548.60 623.55 549.45 622.00 C550.30 620.45 551.93 619.03 553.05 617.20 C554.17 615.37 555.88 612.87 556.15 611.00 C556.42 609.13 554.98 607.20 554.65 606.00 C554.32 604.80 554.23 604.17 554.15 603.80 Z" fill="#a750d8" stroke="#1a1a1a" stroke-width="2.00" stroke-linejoin="round"/>
<line x1="533.60" y1="707.10" x2="575.30" y2="707.10" stroke="#fff" stroke-width="4.0" stroke-dasharray="3.9 8.4" stroke-linecap="round"/>
<path d="M667.55 608.70 L667.35 610.30 L667.35 610.30 C666.87 610.92 665.57 612.72 664.45 614.00 C663.33 615.28 661.68 616.62 660.65 618.00 C659.62 619.38 658.22 621.05 658.25 622.30 C658.28 623.55 659.62 624.55 660.85 625.50 C662.08 626.45 664.42 627.32 665.65 628.00 C666.88 628.68 667.82 629.33 668.25 629.60 L668.25 629.60 C667.92 629.90 667.35 630.67 666.25 631.40 C665.15 632.13 662.98 633.15 661.65 634.00 C660.32 634.85 659.03 635.75 658.25 636.50 C657.47 637.25 657.17 638.17 656.95 638.50 L656.95 638.50 L656.95 697.50 L656.95 697.50 C657.10 697.72 657.40 698.40 657.85 698.80 C658.30 699.20 658.35 699.43 659.65 699.90 C660.95 700.37 662.92 700.97 665.65 701.60 C668.38 702.23 672.57 703.05 676.05 703.70 C679.53 704.35 683.03 704.97 686.55 705.50 C690.07 706.03 695.38 706.67 697.15 706.90 L697.15 706.90 C697.47 707.28 698.60 708.43 699.05 709.20 C699.50 709.97 699.72 711.12 699.85 711.50 L699.85 711.50 C698.22 711.83 692.67 712.87 690.05 713.50 C687.43 714.13 685.13 715.00 684.15 715.30 L684.15 715.30 C683.98 715.50 683.50 715.97 683.15 716.50 C682.80 717.03 682.42 717.87 682.05 718.50 C681.68 719.13 681.32 719.88 680.95 720.30 C680.58 720.72 680.03 720.88 679.85 721.00 L633.55 721.00 C633.37 720.88 632.82 720.72 632.45 720.30 C632.08 719.88 631.72 719.13 631.35 718.50 C630.98 717.87 630.60 717.03 630.25 716.50 C629.90 715.97 629.42 715.50 629.25 715.30 L629.25 715.30 C628.27 715.00 625.97 714.13 623.35 713.50 C620.73 712.87 615.18 711.83 613.55 711.50 L613.55 711.50 C613.68 711.12 613.90 709.97 614.35 709.20 C614.80 708.43 615.93 707.28 616.25 706.90 L616.25 706.90 C618.02 706.67 623.33 706.03 626.85 705.50 C630.37 704.97 633.87 704.35 637.35 703.70 C640.83 703.05 645.02 702.23 647.75 701.60 C650.48 700.97 652.45 700.37 653.75 699.90 C655.05 699.43 655.10 699.20 655.55 698.80 C656.00 698.40 656.30 697.72 656.45 697.50 L656.45 697.50 L656.45 638.50 L656.45 638.50 C656.23 638.17 655.93 637.25 655.15 636.50 C654.37 635.75 653.08 634.85 651.75 634.00 C650.42 633.15 648.25 632.13 647.15 631.40 C646.05 630.67 645.48 629.90 645.15 629.60 L645.15 629.60 C645.58 629.33 646.52 628.68 647.75 628.00 C648.98 627.32 651.32 626.45 652.55 625.50 C653.78 624.55 655.12 623.55 655.15 622.30 C655.18 621.05 653.78 619.38 652.75 618.00 C651.72 616.62 650.07 615.28 648.95 614.00 C647.83 612.72 646.53 610.92 646.05 610.30 L646.05 610.30 L645.85 608.70 Z" fill="#a750d8" stroke="#1a1a1a" stroke-width="2.00" stroke-linejoin="round"/>
<line x1="612.00" y1="709.00" x2="701.90" y2="709.00" stroke="#fff" stroke-width="4.0" stroke-dasharray="3.8 8.7" stroke-linecap="round"/>
<line x1="828.90" y1="494.40" x2="828.90" y2="723.20" stroke="#000" stroke-width="1.8"/>
<line x1="819.40" y1="722.30" x2="1446.00" y2="722.30" stroke="#000" stroke-width="1.8"/>
<line x1="819.40" y1="500.40" x2="828.90" y2="500.40" stroke="#000" stroke-width="1.8"/>
<text x="768.00" y="507.20" font-size="25.6" text-anchor="start" fill="#000" stroke="#000" stroke-width="0.5" font-weight="normal" textLength="48.0" lengthAdjust="spacing">1.20</text>
<line x1="819.40" y1="555.75" x2="828.90" y2="555.75" stroke="#000" stroke-width="1.8"/>
<text x="768.00" y="562.50" font-size="25.6" text-anchor="start" fill="#000" stroke="#000" stroke-width="0.5" font-weight="normal" textLength="48.0" lengthAdjust="spacing">0.90</text>
<line x1="819.40" y1="611.10" x2="828.90" y2="611.10" stroke="#000" stroke-width="1.8"/>
<text x="768.00" y="617.80" font-size="25.6" text-anchor="start" fill="#000" stroke="#000" stroke-width="0.5" font-weight="normal" textLength="48.0" lengthAdjust="spacing">0.60</text>
<line x1="819.40" y1="666.45" x2="828.90" y2="666.45" stroke="#000" stroke-width="1.8"/>
<text x="768.00" y="673.10" font-size="25.6" text-anchor="start" fill="#000" stroke="#000" stroke-width="0.5" font-weight="normal" textLength="48.0" lengthAdjust="spacing">0.30</text>
<line x1="819.40" y1="721.80" x2="828.90" y2="721.80" stroke="#000" stroke-width="1.8"/>
<text x="768.00" y="728.40" font-size="25.6" text-anchor="start" fill="#000" stroke="#000" stroke-width="0.5" font-weight="normal" textLength="48.0" lengthAdjust="spacing">0.00</text>
<line x1="887.90" y1="722.30" x2="887.90" y2="731.80" stroke="#000" stroke-width="1.8"/>
<line x1="987.70" y1="722.30" x2="987.70" y2="731.80" stroke="#000" stroke-width="1.8"/>
<line x1="1087.40" y1="722.30" x2="1087.40" y2="731.80" stroke="#000" stroke-width="1.8"/>
<line x1="1186.80" y1="722.30" x2="1186.80" y2="731.80" stroke="#000" stroke-width="1.8"/>
<line x1="1286.30" y1="722.30" x2="1286.30" y2="731.80" stroke="#000" stroke-width="1.8"/>
<line x1="1385.90" y1="722.30" x2="1385.90" y2="731.80" stroke="#000" stroke-width="1.8"/>
<text x="1093.30" y="498.70" font-size="25.5" text-anchor="start" fill="#000" stroke="#000" stroke-width="0.5" font-weight="normal" textLength="88.4" lengthAdjust="spacing">LTR45B</text>
<text x="746.00" y="608.80" font-size="25.0" text-anchor="middle" fill="#000" stroke="#000" stroke-width="0.5" font-weight="normal" transform="rotate(-90 746.00 608.80)">Mean norm. acc.</text>
<path d="M891.85 547.90 C891.87 548.75 891.72 550.02 891.95 553.00 C892.18 555.98 891.95 560.47 893.25 565.80 C894.55 571.13 897.57 578.58 899.75 585.00 C901.93 591.42 904.87 598.33 906.35 604.30 C907.83 610.27 908.27 615.77 908.65 620.80 C909.03 625.83 908.82 629.92 908.65 634.50 C908.48 639.08 907.90 644.17 907.65 648.30 C907.40 652.43 906.92 655.18 907.15 659.30 C907.38 663.42 907.95 668.42 909.05 673.00 C910.15 677.58 912.52 682.20 913.75 686.80 C914.98 691.40 916.00 696.47 916.45 700.60 C916.90 704.73 916.53 708.78 916.45 711.60 C916.37 714.42 916.43 716.00 915.95 717.50 C915.47 719.00 913.95 720.08 913.55 720.60 L862.25 720.60 C861.85 720.08 860.33 719.00 859.85 717.50 C859.37 716.00 859.43 714.42 859.35 711.60 C859.27 708.78 858.90 704.73 859.35 700.60 C859.80 696.47 860.82 691.40 862.05 686.80 C863.28 682.20 865.65 677.58 866.75 673.00 C867.85 668.42 868.42 663.42 868.65 659.30 C868.88 655.18 868.40 652.43 868.15 648.30 C867.90 644.17 867.32 639.08 867.15 634.50 C866.98 629.92 866.77 625.83 867.15 620.80 C867.53 615.77 867.97 610.27 869.45 604.30 C870.93 598.33 873.87 591.42 876.05 585.00 C878.23 578.58 881.25 571.13 882.55 565.80 C883.85 560.47 883.62 555.98 883.85 553.00 C884.08 550.02 883.93 548.75 883.95 547.90 Z" fill="#4a51b4" stroke="#1a1a1a" stroke-width="2.00" stroke-linejoin="round"/>
<line x1="869.40" y1="659.00" x2="907.60" y2="659.00" stroke="#fff" stroke-width="3.8" stroke-dasharray="3.8 8.3" stroke-linecap="round"/>
<path d="M991.35 544.30 C991.37 545.25 991.33 546.42 991.45 550.00 C991.57 553.58 991.33 560.88 992.05 565.80 C992.77 570.72 993.98 574.00 995.75 579.50 C997.52 585.00 1000.58 592.38 1002.65 598.80 C1004.72 605.22 1007.00 612.05 1008.15 618.00 C1009.30 623.95 1009.32 629.45 1009.55 634.50 C1009.78 639.55 1009.68 643.72 1009.55 648.30 C1009.42 652.88 1008.52 657.42 1008.75 662.00 C1008.98 666.58 1009.90 671.20 1010.95 675.80 C1012.00 680.40 1014.02 685.02 1015.05 689.60 C1016.08 694.18 1016.88 699.40 1017.15 703.30 C1017.42 707.20 1016.87 710.58 1016.65 713.00 C1016.43 715.42 1016.32 716.53 1015.85 717.80 C1015.38 719.07 1014.18 720.13 1013.85 720.60 L961.55 720.60 C961.22 720.13 960.02 719.07 959.55 717.80 C959.08 716.53 958.97 715.42 958.75 713.00 C958.53 710.58 957.98 707.20 958.25 703.30 C958.52 699.40 959.32 694.18 960.35 689.60 C961.38 685.02 963.40 680.40 964.45 675.80 C965.50 671.20 966.42 666.58 966.65 662.00 C966.88 657.42 965.98 652.88 965.85 648.30 C965.72 643.72 965.62 639.55 965.85 634.50 C966.08 629.45 966.10 623.95 967.25 618.00 C968.40 612.05 970.68 605.22 972.75 598.80 C974.82 592.38 977.88 585.00 979.65 579.50 C981.42 574.00 982.63 570.72 983.35 565.80 C984.07 560.88 983.83 553.58 983.95 550.00 C984.07 546.42 984.03 545.25 984.05 544.30 Z" fill="#4a51b4" stroke="#1a1a1a" stroke-width="2.00" stroke-linejoin="round"/>
<line x1="966.90" y1="662.20" x2="1007.80" y2="662.20" stroke="#fff" stroke-width="3.8" stroke-dasharray="3.8 8.3" stroke-linecap="round"/>
<path d="M1093.35 559.70 C1093.42 560.75 1093.32 561.78 1093.75 566.00 C1094.18 570.22 1095.35 578.17 1095.95 585.00 C1096.55 591.83 1096.83 602.00 1097.35 607.00 C1097.87 612.00 1098.23 612.25 1099.05 615.00 C1099.87 617.75 1100.52 619.33 1102.25 623.50 C1103.98 627.67 1107.33 634.95 1109.45 640.00 C1111.57 645.05 1113.58 649.20 1114.95 653.80 C1116.32 658.40 1117.02 662.57 1117.65 667.60 C1118.28 672.63 1118.57 678.50 1118.75 684.00 C1118.93 689.50 1119.07 696.00 1118.75 700.60 C1118.43 705.20 1117.40 708.95 1116.85 711.60 C1116.30 714.25 1115.92 715.40 1115.45 716.50 C1114.98 717.60 1114.28 717.92 1114.05 718.20 L1060.55 718.20 C1060.32 717.92 1059.62 717.60 1059.15 716.50 C1058.68 715.40 1058.30 714.25 1057.75 711.60 C1057.20 708.95 1056.17 705.20 1055.85 700.60 C1055.53 696.00 1055.67 689.50 1055.85 684.00 C1056.03 678.50 1056.32 672.63 1056.95 667.60 C1057.58 662.57 1058.28 658.40 1059.65 653.80 C1061.02 649.20 1063.03 645.05 1065.15 640.00 C1067.27 634.95 1070.62 627.67 1072.35 623.50 C1074.08 619.33 1074.73 617.75 1075.55 615.00 C1076.37 612.25 1076.73 612.00 1077.25 607.00 C1077.77 602.00 1078.05 591.83 1078.65 585.00 C1079.25 578.17 1080.42 570.22 1080.85 566.00 C1081.28 561.78 1081.18 560.75 1081.25 559.70 Z" fill="#e9a427" stroke="#1a1a1a" stroke-width="2.00" stroke-linejoin="round"/>
<line x1="1057.90" y1="667.80" x2="1111.20" y2="667.80" stroke="#fff" stroke-width="3.8" stroke-dasharray="3.8 8.3" stroke-linecap="round"/>
<path d="M1194.75 566.60 C1194.80 567.50 1194.87 568.93 1195.05 572.00 C1195.23 575.07 1195.48 578.25 1195.85 585.00 C1196.22 591.75 1196.80 606.83 1197.25 612.50 C1197.70 618.17 1197.87 616.70 1198.55 619.00 C1199.23 621.30 1199.27 622.80 1201.35 626.30 C1203.43 629.80 1207.83 635.42 1211.05 640.00 C1214.27 644.58 1218.50 650.13 1220.65 653.80 C1222.80 657.47 1223.13 659.47 1223.95 662.00 C1224.77 664.53 1225.40 666.83 1225.55 669.00 C1225.70 671.17 1225.22 672.95 1224.85 675.00 C1224.48 677.05 1224.28 677.97 1223.35 681.30 C1222.42 684.63 1220.72 690.42 1219.25 695.00 C1217.78 699.58 1215.85 705.30 1214.55 708.80 C1213.25 712.30 1212.25 714.43 1211.45 716.00 C1210.65 717.57 1210.03 717.83 1209.75 718.20 L1164.45 718.20 C1164.17 717.83 1163.55 717.57 1162.75 716.00 C1161.95 714.43 1160.95 712.30 1159.65 708.80 C1158.35 705.30 1156.42 699.58 1154.95 695.00 C1153.48 690.42 1151.78 684.63 1150.85 681.30 C1149.92 677.97 1149.72 677.05 1149.35 675.00 C1148.98 672.95 1148.50 671.17 1148.65 669.00 C1148.80 666.83 1149.43 664.53 1150.25 662.00 C1151.07 659.47 1151.40 657.47 1153.55 653.80 C1155.70 650.13 1159.93 644.58 1163.15 640.00 C1166.37 635.42 1170.77 629.80 1172.85 626.30 C1174.93 622.80 1174.97 621.30 1175.65 619.00 C1176.33 616.70 1176.50 618.17 1176.95 612.50 C1177.40 606.83 1177.98 591.75 1178.35 585.00 C1178.72 578.25 1178.97 575.07 1179.15 572.00 C1179.33 568.93 1179.40 567.50 1179.45 566.60 Z" fill="#e9a427" stroke="#1a1a1a" stroke-width="2.00" stroke-linejoin="round"/>
<line x1="1149.60" y1="668.80" x2="1225.40" y2="668.80" stroke="#fff" stroke-width="3.8" stroke-dasharray="3.8 8.3" stroke-linecap="round"/>
<path d="M1301.95 612.20 C1302.12 612.83 1302.55 613.42 1302.95 616.00 C1303.35 618.58 1304.28 621.75 1304.35 627.70 C1304.42 633.65 1302.50 644.83 1303.35 651.70 C1304.20 658.57 1306.72 663.35 1309.45 668.90 C1312.18 674.45 1316.60 680.43 1319.75 685.00 C1322.90 689.57 1326.58 692.70 1328.35 696.30 C1330.12 699.90 1330.27 703.60 1330.35 706.60 C1330.43 709.60 1329.47 712.40 1328.85 714.30 C1328.23 716.20 1327.55 717.08 1326.65 718.00 C1325.75 718.92 1323.98 719.50 1323.45 719.80 L1249.15 719.80 C1248.62 719.50 1246.85 718.92 1245.95 718.00 C1245.05 717.08 1244.37 716.20 1243.75 714.30 C1243.13 712.40 1242.17 709.60 1242.25 706.60 C1242.33 703.60 1242.48 699.90 1244.25 696.30 C1246.02 692.70 1249.70 689.57 1252.85 685.00 C1256.00 680.43 1260.42 674.45 1263.15 668.90 C1265.88 663.35 1268.40 658.57 1269.25 651.70 C1270.10 644.83 1268.18 633.65 1268.25 627.70 C1268.32 621.75 1269.25 618.58 1269.65 616.00 C1270.05 613.42 1270.48 612.83 1270.65 612.20 Z" fill="#a750d8" stroke="#1a1a1a" stroke-width="2.00" stroke-linejoin="round"/>
<line x1="1253.10" y1="685.00" x2="1319.00" y2="685.00" stroke="#fff" stroke-width="3.8" stroke-dasharray="3.8 8.3" stroke-linecap="round"/>
<path d="M1402.25 610.80 C1402.42 611.33 1402.57 611.77 1403.25 614.00 C1403.93 616.23 1405.27 619.07 1406.35 624.20 C1407.43 629.33 1409.00 638.50 1409.75 644.80 C1410.50 651.10 1410.10 656.67 1410.85 662.00 C1411.60 667.33 1412.55 671.65 1414.25 676.80 C1415.95 681.95 1419.50 688.20 1421.05 692.90 C1422.60 697.60 1423.55 701.28 1423.55 705.00 C1423.55 708.72 1422.63 712.57 1421.05 715.20 C1419.47 717.83 1415.22 719.87 1414.05 720.80 L1357.75 720.80 C1356.58 719.87 1352.33 717.83 1350.75 715.20 C1349.17 712.57 1348.25 708.72 1348.25 705.00 C1348.25 701.28 1349.20 697.60 1350.75 692.90 C1352.30 688.20 1355.85 681.95 1357.55 676.80 C1359.25 671.65 1360.20 667.33 1360.95 662.00 C1361.70 656.67 1361.30 651.10 1362.05 644.80 C1362.80 638.50 1364.37 629.33 1365.45 624.20 C1366.53 619.07 1367.87 616.23 1368.55 614.00 C1369.23 611.77 1369.38 611.33 1369.55 610.80 Z" fill="#a750d8" stroke="#1a1a1a" stroke-width="2.00" stroke-linejoin="round"/>
<line x1="1358.60" y1="676.80" x2="1411.10" y2="676.80" stroke="#fff" stroke-width="3.8" stroke-dasharray="3.8 8.3" stroke-linecap="round"/>
<rect x="1469.60" y="505.90" width="24.00" height="24.00" fill="#4a51b4" stroke="#1a1a1a" stroke-width="1.2"/>
<rect x="1469.60" y="574.60" width="24.00" height="24.00" fill="#e9a427" stroke="#1a1a1a" stroke-width="1.2"/>
<rect x="1469.60" y="644.50" width="24.00" height="24.00" fill="#a750d8" stroke="#1a1a1a" stroke-width="1.2"/>
<text x="1510.50" y="512.80" font-size="24.9" text-anchor="start" fill="#000" stroke="#000" stroke-width="0.5" font-weight="normal">Skin</text>
<text x="1510.50" y="537.80" font-size="24.9" text-anchor="start" fill="#000" stroke="#000" stroke-width="0.5" font-weight="normal">T<tspan dy="6.3">reg</tspan></text>
<text x="1510.50" y="585.40" font-size="24.9" text-anchor="start" fill="#000" stroke="#000" stroke-width="0.5" font-weight="normal">Blood CCR8<tspan dy="-6.5" dx="0.8">+</tspan></text>
<text x="1510.50" y="609.90" font-size="24.9" text-anchor="start" fill="#000" stroke="#000" stroke-width="0.5" font-weight="normal">T<tspan dy="6.3">reg</tspan></text>
<text x="1510.50" y="655.10" font-size="24.9" text-anchor="start" fill="#000" stroke="#000" stroke-width="0.5" font-weight="normal">Blood RA<tspan dy="-6.5" dx="0.8">+</tspan></text>
<text x="1510.50" y="680.20" font-size="24.9" text-anchor="start" fill="#000" stroke="#000" stroke-width="0.5" font-weight="normal">T<tspan dy="6.3">reg</tspan></text>
</svg>
</body>
</html>
